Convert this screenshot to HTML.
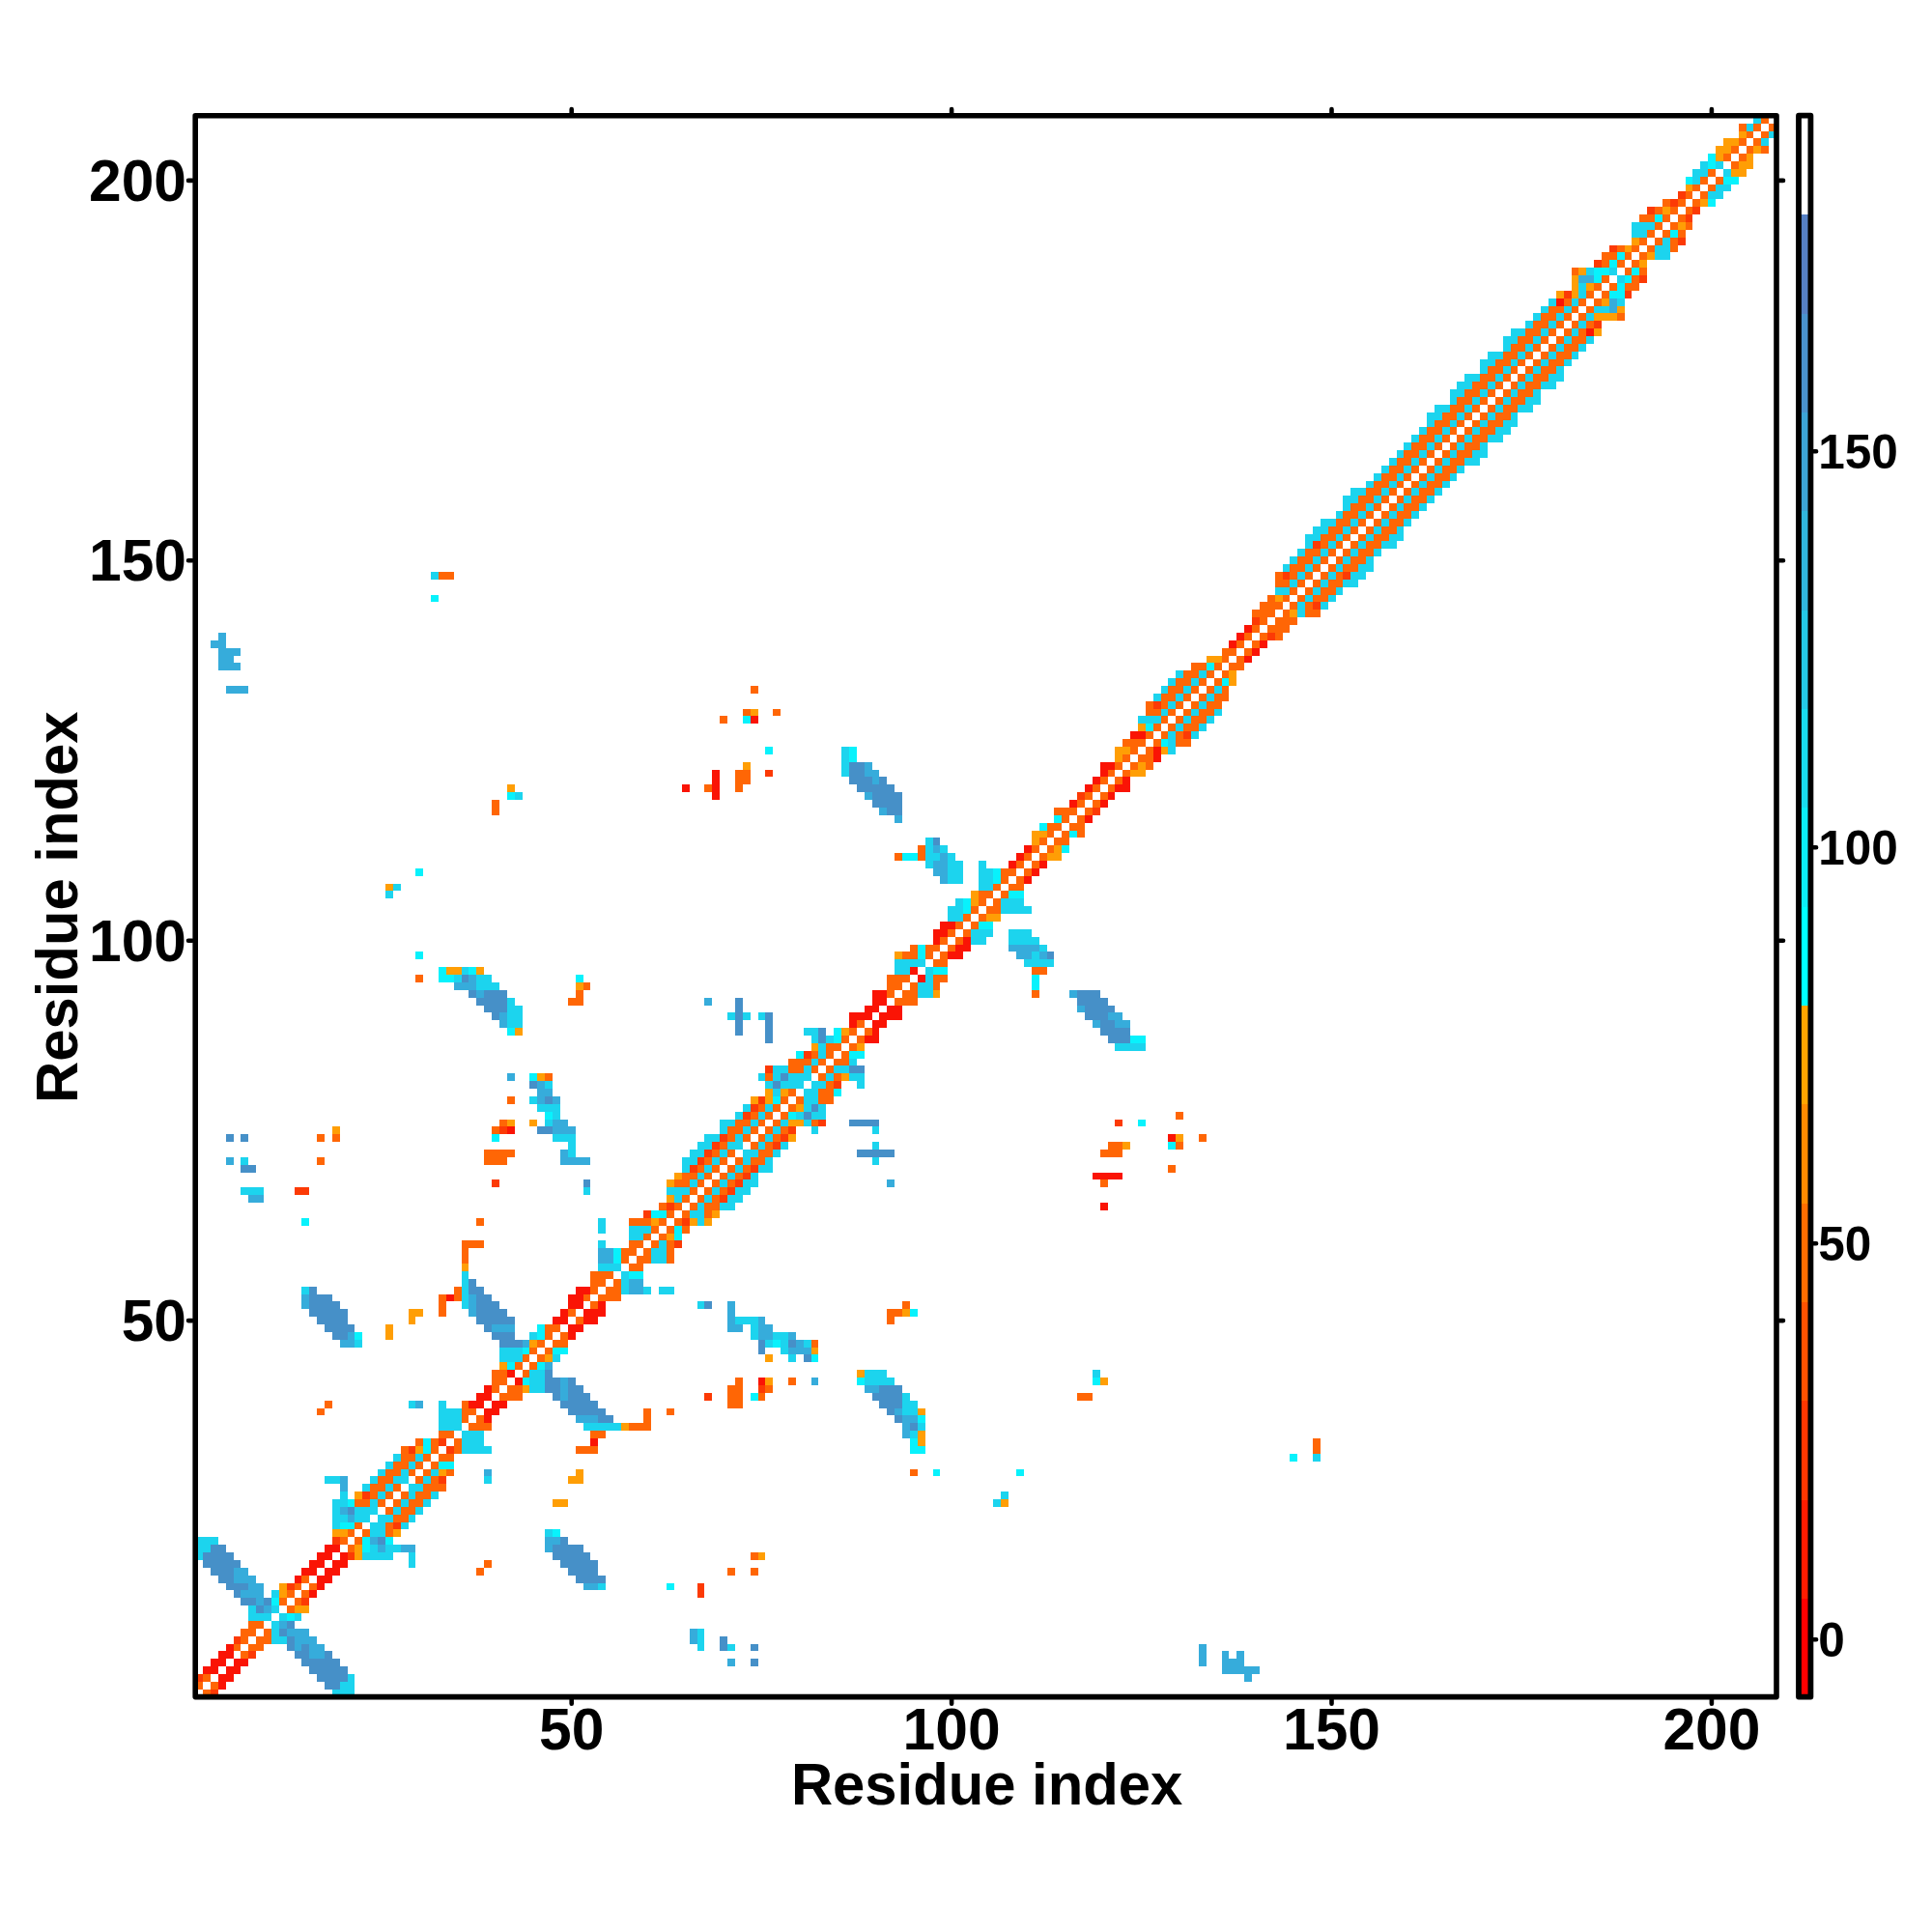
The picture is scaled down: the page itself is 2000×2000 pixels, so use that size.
<!DOCTYPE html>
<html><head><meta charset="utf-8"><title>Contact map</title>
<style>
html,body{margin:0;padding:0;background:#fff;}
body{width:2000px;height:2000px;overflow:hidden;font-family:"Liberation Sans",sans-serif;}
svg{display:block;}
text{font-family:"Liberation Sans",sans-serif;font-weight:bold;fill:#000;}
</style></head><body>
<svg width="2000" height="2000" viewBox="0 0 2000 2000">
<rect width="2000" height="2000" fill="#fff"/>
<g shape-rendering="crispEdges"><path fill="#ff6605" d="M210.07 1748.73h7.87v7.87h-7.87zM202.2 1740.86h7.87v7.87h-7.87zM217.94 1740.86h7.87v7.87h-7.87zM210.07 1732.99h7.87v7.87h-7.87zM249.42 1709.38h7.87v7.87h-7.87zM241.55 1701.52h7.87v7.87h-7.87zM257.28 1701.52h15.74v7.87h-15.74zM249.42 1693.65h7.87v7.87h-7.87zM265.15 1693.65h15.74v7.87h-15.74zM249.42 1685.78h15.74v7.87h-15.74zM273.02 1685.78h7.87v7.87h-7.87zM257.28 1677.91h15.74v7.87h-15.74zM296.63 1662.17h7.87v7.87h-7.87zM288.76 1654.3h7.87v7.87h-7.87zM304.5 1654.3h7.87v7.87h-7.87zM296.63 1646.43h7.87v7.87h-7.87zM312.37 1646.43h7.87v7.87h-7.87zM304.5 1638.56h7.87v7.87h-7.87zM320.24 1638.56h7.87v7.87h-7.87zM312.37 1630.69h7.87v7.87h-7.87zM493.36 1622.82h7.87v7.87h-7.87zM753.05 1622.82h7.87v7.87h-7.87zM776.65 1622.82h7.87v7.87h-7.87zM501.23 1614.95h7.87v7.87h-7.87zM776.65 1607.08h7.87v7.87h-7.87zM359.58 1599.22h7.87v7.87h-7.87zM351.72 1591.35h7.87v7.87h-7.87zM367.45 1591.35h7.87v7.87h-7.87zM359.58 1583.48h7.87v7.87h-7.87zM375.32 1583.48h7.87v7.87h-7.87zM398.93 1583.48h7.87v7.87h-7.87zM367.45 1575.61h7.87v7.87h-7.87zM398.93 1575.61h7.87v7.87h-7.87zM406.8 1567.74h15.74v7.87h-15.74zM398.93 1559.87h7.87v7.87h-7.87zM414.67 1559.87h15.74v7.87h-15.74zM367.45 1552h15.74v7.87h-15.74zM391.06 1552h7.87v7.87h-7.87zM406.8 1552h7.87v7.87h-7.87zM422.54 1552h15.74v7.87h-15.74zM383.19 1544.13h7.87v7.87h-7.87zM398.93 1544.13h7.87v7.87h-7.87zM414.67 1544.13h7.87v7.87h-7.87zM430.41 1544.13h15.74v7.87h-15.74zM383.19 1536.26h15.74v7.87h-15.74zM406.8 1536.26h7.87v7.87h-7.87zM438.28 1536.26h23.61v7.87h-23.61zM391.06 1528.39h15.74v7.87h-15.74zM430.41 1528.39h7.87v7.87h-7.87zM446.15 1528.39h7.87v7.87h-7.87zM398.93 1520.52h15.74v7.87h-15.74zM422.54 1520.52h7.87v7.87h-7.87zM438.28 1520.52h7.87v7.87h-7.87zM461.88 1520.52h7.87v7.87h-7.87zM941.91 1520.52h7.87v7.87h-7.87zM406.8 1512.65h15.74v7.87h-15.74zM430.41 1512.65h7.87v7.87h-7.87zM446.15 1512.65h7.87v7.87h-7.87zM414.67 1504.78h15.74v7.87h-15.74zM438.28 1504.78h7.87v7.87h-7.87zM454.02 1504.78h15.74v7.87h-15.74zM414.67 1496.92h7.87v7.87h-7.87zM446.15 1496.92h7.87v7.87h-7.87zM469.75 1496.92h7.87v7.87h-7.87zM595.66 1496.92h23.61v7.87h-23.61zM1358.98 1496.92h7.87v7.87h-7.87zM430.41 1489.05h7.87v7.87h-7.87zM446.15 1489.05h7.87v7.87h-7.87zM469.75 1489.05h7.87v7.87h-7.87zM1358.98 1489.05h7.87v7.87h-7.87zM454.02 1481.18h15.74v7.87h-15.74zM611.4 1481.18h15.74v7.87h-15.74zM485.49 1473.31h23.61v7.87h-23.61zM650.75 1473.31h23.61v7.87h-23.61zM477.62 1465.44h7.87v7.87h-7.87zM493.36 1465.44h7.87v7.87h-7.87zM666.48 1465.44h7.87v7.87h-7.87zM328.11 1457.57h7.87v7.87h-7.87zM477.62 1457.57h15.74v7.87h-15.74zM666.48 1457.57h7.87v7.87h-7.87zM690.09 1457.57h7.87v7.87h-7.87zM335.98 1449.7h7.87v7.87h-7.87zM477.62 1449.7h7.87v7.87h-7.87zM753.05 1449.7h15.74v7.87h-15.74zM516.97 1441.83h23.61v7.87h-23.61zM753.05 1441.83h15.74v7.87h-15.74zM784.52 1441.83h7.87v7.87h-7.87zM1115.03 1441.83h15.74v7.87h-15.74zM509.1 1433.96h7.87v7.87h-7.87zM524.84 1433.96h15.74v7.87h-15.74zM753.05 1433.96h15.74v7.87h-15.74zM792.39 1433.96h7.87v7.87h-7.87zM509.1 1426.09h15.74v7.87h-15.74zM760.92 1426.09h7.87v7.87h-7.87zM816 1426.09h7.87v7.87h-7.87zM509.1 1418.22h15.74v7.87h-15.74zM540.58 1418.22h7.87v7.87h-7.87zM532.71 1410.35h7.87v7.87h-7.87zM548.45 1410.35h7.87v7.87h-7.87zM540.58 1402.48h7.87v7.87h-7.87zM556.32 1402.48h7.87v7.87h-7.87zM548.45 1394.62h7.87v7.87h-7.87zM564.18 1394.62h7.87v7.87h-7.87zM556.32 1386.75h7.87v7.87h-7.87zM572.05 1386.75h15.74v7.87h-15.74zM839.61 1386.75h7.87v7.87h-7.87zM564.18 1378.88h7.87v7.87h-7.87zM579.92 1378.88h7.87v7.87h-7.87zM564.18 1371.01h15.74v7.87h-15.74zM595.66 1363.14h7.87v7.87h-7.87zM918.3 1363.14h7.87v7.87h-7.87zM454.02 1355.27h7.87v7.87h-7.87zM587.79 1355.27h7.87v7.87h-7.87zM918.3 1355.27h15.74v7.87h-15.74zM454.02 1347.4h7.87v7.87h-7.87zM611.4 1347.4h7.87v7.87h-7.87zM934.04 1347.4h7.87v7.87h-7.87zM454.02 1339.53h7.87v7.87h-7.87zM469.75 1339.53h7.87v7.87h-7.87zM603.53 1339.53h7.87v7.87h-7.87zM619.27 1339.53h23.61v7.87h-23.61zM469.75 1331.66h7.87v7.87h-7.87zM611.4 1331.66h7.87v7.87h-7.87zM627.14 1331.66h15.74v7.87h-15.74zM611.4 1323.79h15.74v7.87h-15.74zM635.01 1323.79h7.87v7.87h-7.87zM611.4 1315.92h23.61v7.87h-23.61zM650.75 1308.05h15.74v7.87h-15.74zM477.62 1300.18h7.87v7.87h-7.87zM642.88 1300.18h7.87v7.87h-7.87zM658.62 1300.18h15.74v7.87h-15.74zM690.09 1300.18h7.87v7.87h-7.87zM477.62 1292.32h7.87v7.87h-7.87zM642.88 1292.32h15.74v7.87h-15.74zM666.48 1292.32h7.87v7.87h-7.87zM690.09 1292.32h7.87v7.87h-7.87zM477.62 1284.45h23.61v7.87h-23.61zM650.75 1284.45h15.74v7.87h-15.74zM674.35 1284.45h7.87v7.87h-7.87zM690.09 1284.45h7.87v7.87h-7.87zM666.48 1276.58h7.87v7.87h-7.87zM682.22 1276.58h7.87v7.87h-7.87zM674.35 1268.71h7.87v7.87h-7.87zM690.09 1268.71h7.87v7.87h-7.87zM705.83 1268.71h7.87v7.87h-7.87zM493.36 1260.84h7.87v7.87h-7.87zM650.75 1260.84h23.61v7.87h-23.61zM682.22 1260.84h7.87v7.87h-7.87zM697.96 1260.84h7.87v7.87h-7.87zM690.09 1252.97h7.87v7.87h-7.87zM705.83 1252.97h7.87v7.87h-7.87zM729.44 1252.97h7.87v7.87h-7.87zM682.22 1245.1h7.87v7.87h-7.87zM697.96 1245.1h7.87v7.87h-7.87zM713.7 1245.1h7.87v7.87h-7.87zM729.44 1245.1h15.74v7.87h-15.74zM705.83 1237.23h7.87v7.87h-7.87zM721.57 1237.23h7.87v7.87h-7.87zM737.31 1237.23h7.87v7.87h-7.87zM713.7 1229.36h7.87v7.87h-7.87zM729.44 1229.36h7.87v7.87h-7.87zM745.18 1229.36h7.87v7.87h-7.87zM697.96 1221.49h15.74v7.87h-15.74zM721.57 1221.49h7.87v7.87h-7.87zM737.31 1221.49h7.87v7.87h-7.87zM753.05 1221.49h7.87v7.87h-7.87zM1138.64 1221.49h7.87v7.87h-7.87zM705.83 1213.62h15.74v7.87h-15.74zM729.44 1213.62h7.87v7.87h-7.87zM745.18 1213.62h7.87v7.87h-7.87zM760.92 1213.62h7.87v7.87h-7.87zM721.57 1205.75h7.87v7.87h-7.87zM737.31 1205.75h7.87v7.87h-7.87zM753.05 1205.75h7.87v7.87h-7.87zM768.78 1205.75h7.87v7.87h-7.87zM1209.46 1205.75h7.87v7.87h-7.87zM328.11 1197.88h7.87v7.87h-7.87zM501.23 1197.88h23.61v7.87h-23.61zM729.44 1197.88h7.87v7.87h-7.87zM745.18 1197.88h7.87v7.87h-7.87zM760.92 1197.88h7.87v7.87h-7.87zM776.65 1197.88h15.74v7.87h-15.74zM501.23 1190.02h31.48v7.87h-31.48zM737.31 1190.02h7.87v7.87h-7.87zM753.05 1190.02h7.87v7.87h-7.87zM784.52 1190.02h15.74v7.87h-15.74zM1138.64 1190.02h23.61v7.87h-23.61zM745.18 1182.15h7.87v7.87h-7.87zM776.65 1182.15h7.87v7.87h-7.87zM792.39 1182.15h7.87v7.87h-7.87zM1146.51 1182.15h15.74v7.87h-15.74zM1217.33 1182.15h7.87v7.87h-7.87zM328.11 1174.28h7.87v7.87h-7.87zM343.85 1174.28h7.87v7.87h-7.87zM753.05 1174.28h7.87v7.87h-7.87zM768.78 1174.28h7.87v7.87h-7.87zM784.52 1174.28h7.87v7.87h-7.87zM800.26 1174.28h7.87v7.87h-7.87zM1240.94 1174.28h7.87v7.87h-7.87zM509.1 1166.41h7.87v7.87h-7.87zM753.05 1166.41h15.74v7.87h-15.74zM776.65 1166.41h7.87v7.87h-7.87zM792.39 1166.41h7.87v7.87h-7.87zM808.13 1166.41h7.87v7.87h-7.87zM516.97 1158.54h7.87v7.87h-7.87zM760.92 1158.54h15.74v7.87h-15.74zM784.52 1158.54h7.87v7.87h-7.87zM800.26 1158.54h7.87v7.87h-7.87zM839.61 1158.54h7.87v7.87h-7.87zM776.65 1150.67h7.87v7.87h-7.87zM792.39 1150.67h7.87v7.87h-7.87zM808.13 1150.67h7.87v7.87h-7.87zM1217.33 1150.67h7.87v7.87h-7.87zM784.52 1142.8h7.87v7.87h-7.87zM800.26 1142.8h7.87v7.87h-7.87zM816 1142.8h7.87v7.87h-7.87zM524.84 1134.93h7.87v7.87h-7.87zM808.13 1134.93h7.87v7.87h-7.87zM823.87 1134.93h7.87v7.87h-7.87zM847.48 1134.93h15.74v7.87h-15.74zM816 1127.06h7.87v7.87h-7.87zM847.48 1127.06h15.74v7.87h-15.74zM855.35 1119.19h7.87v7.87h-7.87zM564.18 1111.32h7.87v7.87h-7.87zM792.39 1111.32h7.87v7.87h-7.87zM847.48 1111.32h7.87v7.87h-7.87zM863.22 1111.32h7.87v7.87h-7.87zM816 1103.45h15.74v7.87h-15.74zM839.61 1103.45h7.87v7.87h-7.87zM855.35 1103.45h7.87v7.87h-7.87zM816 1095.58h23.61v7.87h-23.61zM847.48 1095.58h7.87v7.87h-7.87zM863.22 1095.58h15.74v7.87h-15.74zM839.61 1087.72h7.87v7.87h-7.87zM855.35 1087.72h7.87v7.87h-7.87zM871.08 1087.72h7.87v7.87h-7.87zM855.35 1079.85h15.74v7.87h-15.74zM878.95 1079.85h7.87v7.87h-7.87zM871.08 1071.98h7.87v7.87h-7.87zM886.82 1071.98h7.87v7.87h-7.87zM878.95 1064.11h7.87v7.87h-7.87zM894.69 1064.11h7.87v7.87h-7.87zM886.82 1056.24h7.87v7.87h-7.87zM587.79 1032.63h15.74v7.87h-15.74zM926.17 1032.63h23.61v7.87h-23.61zM595.66 1024.76h7.87v7.87h-7.87zM918.3 1024.76h7.87v7.87h-7.87zM934.04 1024.76h15.74v7.87h-15.74zM1067.82 1024.76h7.87v7.87h-7.87zM603.53 1016.89h7.87v7.87h-7.87zM918.3 1016.89h15.74v7.87h-15.74zM941.91 1016.89h7.87v7.87h-7.87zM965.52 1016.89h7.87v7.87h-7.87zM430.41 1009.02h7.87v7.87h-7.87zM918.3 1009.02h23.61v7.87h-23.61zM965.52 1009.02h15.74v7.87h-15.74zM1067.82 1001.15h15.74v7.87h-15.74zM965.52 993.28h15.74v7.87h-15.74zM934.04 985.42h15.74v7.87h-15.74zM957.65 985.42h7.87v7.87h-7.87zM973.38 985.42h7.87v7.87h-7.87zM941.91 977.55h7.87v7.87h-7.87zM957.65 977.55h15.74v7.87h-15.74zM981.25 977.55h7.87v7.87h-7.87zM973.38 969.68h7.87v7.87h-7.87zM989.12 969.68h7.87v7.87h-7.87zM981.25 961.81h7.87v7.87h-7.87zM996.99 961.81h7.87v7.87h-7.87zM989.12 953.94h7.87v7.87h-7.87zM1004.86 953.94h7.87v7.87h-7.87zM996.99 946.07h7.87v7.87h-7.87zM1012.73 946.07h7.87v7.87h-7.87zM1004.86 938.2h7.87v7.87h-7.87zM1020.6 938.2h15.74v7.87h-15.74zM1012.73 930.33h7.87v7.87h-7.87zM1028.47 930.33h7.87v7.87h-7.87zM1012.73 922.46h15.74v7.87h-15.74zM1036.34 922.46h7.87v7.87h-7.87zM1028.47 914.59h7.87v7.87h-7.87zM1044.21 914.59h15.74v7.87h-15.74zM1036.34 906.72h7.87v7.87h-7.87zM1052.08 906.72h7.87v7.87h-7.87zM1036.34 898.85h15.74v7.87h-15.74zM1059.95 898.85h7.87v7.87h-7.87zM1052.08 890.98h7.87v7.87h-7.87zM1067.82 890.98h7.87v7.87h-7.87zM926.17 883.12h7.87v7.87h-7.87zM949.78 883.12h7.87v7.87h-7.87zM1059.95 883.12h7.87v7.87h-7.87zM1075.68 883.12h7.87v7.87h-7.87zM949.78 875.25h7.87v7.87h-7.87zM1067.82 875.25h7.87v7.87h-7.87zM1083.55 875.25h7.87v7.87h-7.87zM1075.68 867.38h7.87v7.87h-7.87zM1091.42 867.38h15.74v7.87h-15.74zM1083.55 859.51h7.87v7.87h-7.87zM1099.29 859.51h7.87v7.87h-7.87zM1115.03 859.51h7.87v7.87h-7.87zM1083.55 851.64h15.74v7.87h-15.74zM1107.16 851.64h15.74v7.87h-15.74zM1099.29 843.77h7.87v7.87h-7.87zM1115.03 843.77h7.87v7.87h-7.87zM509.1 835.9h7.87v7.87h-7.87zM1091.42 835.9h23.61v7.87h-23.61zM1122.9 835.9h7.87v7.87h-7.87zM509.1 828.03h7.87v7.87h-7.87zM1115.03 828.03h7.87v7.87h-7.87zM1130.77 828.03h7.87v7.87h-7.87zM1122.9 820.16h7.87v7.87h-7.87zM1138.64 820.16h7.87v7.87h-7.87zM729.44 812.29h7.87v7.87h-7.87zM760.92 812.29h7.87v7.87h-7.87zM1130.77 812.29h7.87v7.87h-7.87zM1146.51 812.29h7.87v7.87h-7.87zM760.92 804.42h15.74v7.87h-15.74zM1138.64 804.42h7.87v7.87h-7.87zM1154.38 804.42h7.87v7.87h-7.87zM760.92 796.55h15.74v7.87h-15.74zM1146.51 796.55h7.87v7.87h-7.87zM1162.25 796.55h7.87v7.87h-7.87zM1154.38 788.68h7.87v7.87h-7.87zM1170.12 788.68h7.87v7.87h-7.87zM1185.85 788.68h7.87v7.87h-7.87zM1162.25 780.82h7.87v7.87h-7.87zM1177.98 780.82h15.74v7.87h-15.74zM1170.12 772.95h7.87v7.87h-7.87zM1185.85 772.95h7.87v7.87h-7.87zM1162.25 765.08h23.61v7.87h-23.61zM1193.72 765.08h7.87v7.87h-7.87zM1217.33 765.08h15.74v7.87h-15.74zM1185.85 757.21h7.87v7.87h-7.87zM1201.59 757.21h7.87v7.87h-7.87zM1217.33 757.21h7.87v7.87h-7.87zM1193.72 749.34h7.87v7.87h-7.87zM1209.46 749.34h7.87v7.87h-7.87zM1225.2 749.34h15.74v7.87h-15.74zM745.18 741.47h7.87v7.87h-7.87zM1201.59 741.47h7.87v7.87h-7.87zM1217.33 741.47h7.87v7.87h-7.87zM1233.07 741.47h15.74v7.87h-15.74zM768.78 733.6h7.87v7.87h-7.87zM800.26 733.6h7.87v7.87h-7.87zM1185.85 733.6h15.74v7.87h-15.74zM1209.46 733.6h7.87v7.87h-7.87zM1225.2 733.6h7.87v7.87h-7.87zM1240.94 733.6h15.74v7.87h-15.74zM1185.85 725.73h7.87v7.87h-7.87zM1201.59 725.73h7.87v7.87h-7.87zM1217.33 725.73h7.87v7.87h-7.87zM1233.07 725.73h7.87v7.87h-7.87zM1248.81 725.73h15.74v7.87h-15.74zM1201.59 717.86h15.74v7.87h-15.74zM1225.2 717.86h7.87v7.87h-7.87zM1240.94 717.86h7.87v7.87h-7.87zM1256.68 717.86h15.74v7.87h-15.74zM776.65 709.99h7.87v7.87h-7.87zM1209.46 709.99h15.74v7.87h-15.74zM1233.07 709.99h7.87v7.87h-7.87zM1248.81 709.99h7.87v7.87h-7.87zM1264.55 709.99h7.87v7.87h-7.87zM1217.33 702.12h15.74v7.87h-15.74zM1240.94 702.12h7.87v7.87h-7.87zM1256.68 702.12h7.87v7.87h-7.87zM1225.2 694.25h15.74v7.87h-15.74zM1248.81 694.25h7.87v7.87h-7.87zM1264.55 694.25h7.87v7.87h-7.87zM1233.07 686.38h15.74v7.87h-15.74zM1256.68 686.38h7.87v7.87h-7.87zM1272.42 686.38h15.74v7.87h-15.74zM1264.55 678.52h7.87v7.87h-7.87zM1280.28 678.52h7.87v7.87h-7.87zM1264.55 670.65h15.74v7.87h-15.74zM1288.15 670.65h7.87v7.87h-7.87zM1280.28 662.78h7.87v7.87h-7.87zM1296.02 662.78h7.87v7.87h-7.87zM1288.15 654.91h7.87v7.87h-7.87zM1303.89 654.91h7.87v7.87h-7.87zM1319.63 654.91h7.87v7.87h-7.87zM1296.02 647.04h7.87v7.87h-7.87zM1311.76 647.04h23.61v7.87h-23.61zM1303.89 639.17h7.87v7.87h-7.87zM1319.63 639.17h23.61v7.87h-23.61zM1296.02 631.3h23.61v7.87h-23.61zM1327.5 631.3h7.87v7.87h-7.87zM1351.11 631.3h15.74v7.87h-15.74zM1303.89 623.43h23.61v7.87h-23.61zM1335.37 623.43h7.87v7.87h-7.87zM1351.11 623.43h7.87v7.87h-7.87zM1311.76 615.56h7.87v7.87h-7.87zM1327.5 615.56h7.87v7.87h-7.87zM1343.24 615.56h7.87v7.87h-7.87zM1358.98 615.56h15.74v7.87h-15.74zM1335.37 607.69h7.87v7.87h-7.87zM1351.11 607.69h7.87v7.87h-7.87zM1366.85 607.69h15.74v7.87h-15.74zM1319.63 599.82h15.74v7.87h-15.74zM1343.24 599.82h7.87v7.87h-7.87zM1358.98 599.82h7.87v7.87h-7.87zM1374.72 599.82h15.74v7.87h-15.74zM454.02 591.95h15.74v7.87h-15.74zM1319.63 591.95h7.87v7.87h-7.87zM1335.37 591.95h7.87v7.87h-7.87zM1351.11 591.95h7.87v7.87h-7.87zM1366.85 591.95h7.87v7.87h-7.87zM1382.58 591.95h7.87v7.87h-7.87zM1335.37 584.08h15.74v7.87h-15.74zM1358.98 584.08h7.87v7.87h-7.87zM1374.72 584.08h7.87v7.87h-7.87zM1390.45 584.08h15.74v7.87h-15.74zM1343.24 576.22h15.74v7.87h-15.74zM1366.85 576.22h7.87v7.87h-7.87zM1382.58 576.22h7.87v7.87h-7.87zM1398.32 576.22h15.74v7.87h-15.74zM1351.11 568.35h15.74v7.87h-15.74zM1374.72 568.35h7.87v7.87h-7.87zM1390.45 568.35h7.87v7.87h-7.87zM1406.19 568.35h15.74v7.87h-15.74zM1366.85 560.48h7.87v7.87h-7.87zM1382.58 560.48h7.87v7.87h-7.87zM1398.32 560.48h7.87v7.87h-7.87zM1414.06 560.48h15.74v7.87h-15.74zM1366.85 552.61h15.74v7.87h-15.74zM1390.45 552.61h7.87v7.87h-7.87zM1406.19 552.61h7.87v7.87h-7.87zM1421.93 552.61h15.74v7.87h-15.74zM1374.72 544.74h15.74v7.87h-15.74zM1398.32 544.74h7.87v7.87h-7.87zM1414.06 544.74h7.87v7.87h-7.87zM1429.8 544.74h15.74v7.87h-15.74zM1382.58 536.87h15.74v7.87h-15.74zM1406.19 536.87h7.87v7.87h-7.87zM1421.93 536.87h7.87v7.87h-7.87zM1437.67 536.87h15.74v7.87h-15.74zM1390.45 529h15.74v7.87h-15.74zM1414.06 529h7.87v7.87h-7.87zM1429.8 529h7.87v7.87h-7.87zM1445.54 529h15.74v7.87h-15.74zM1398.32 521.13h15.74v7.87h-15.74zM1421.93 521.13h7.87v7.87h-7.87zM1437.67 521.13h7.87v7.87h-7.87zM1453.41 521.13h15.74v7.87h-15.74zM1406.19 513.26h15.74v7.87h-15.74zM1429.8 513.26h7.87v7.87h-7.87zM1445.54 513.26h7.87v7.87h-7.87zM1461.28 513.26h15.74v7.87h-15.74zM1414.06 505.39h15.74v7.87h-15.74zM1437.67 505.39h7.87v7.87h-7.87zM1453.41 505.39h7.87v7.87h-7.87zM1469.15 505.39h15.74v7.87h-15.74zM1421.93 497.52h15.74v7.87h-15.74zM1445.54 497.52h7.87v7.87h-7.87zM1461.28 497.52h7.87v7.87h-7.87zM1477.02 497.52h15.74v7.87h-15.74zM1429.8 489.65h15.74v7.87h-15.74zM1453.41 489.65h7.87v7.87h-7.87zM1469.15 489.65h7.87v7.87h-7.87zM1484.88 489.65h15.74v7.87h-15.74zM1437.67 481.78h15.74v7.87h-15.74zM1461.28 481.78h7.87v7.87h-7.87zM1477.02 481.78h7.87v7.87h-7.87zM1492.75 481.78h15.74v7.87h-15.74zM1445.54 473.92h15.74v7.87h-15.74zM1469.15 473.92h7.87v7.87h-7.87zM1484.88 473.92h7.87v7.87h-7.87zM1500.62 473.92h15.74v7.87h-15.74zM1453.41 466.05h15.74v7.87h-15.74zM1477.02 466.05h7.87v7.87h-7.87zM1492.75 466.05h7.87v7.87h-7.87zM1508.49 466.05h15.74v7.87h-15.74zM1461.28 458.18h15.74v7.87h-15.74zM1484.88 458.18h7.87v7.87h-7.87zM1500.62 458.18h7.87v7.87h-7.87zM1516.36 458.18h15.74v7.87h-15.74zM1469.15 450.31h15.74v7.87h-15.74zM1492.75 450.31h7.87v7.87h-7.87zM1508.49 450.31h7.87v7.87h-7.87zM1524.23 450.31h15.74v7.87h-15.74zM1477.02 442.44h15.74v7.87h-15.74zM1500.62 442.44h7.87v7.87h-7.87zM1516.36 442.44h7.87v7.87h-7.87zM1532.1 442.44h15.74v7.87h-15.74zM1484.88 434.57h15.74v7.87h-15.74zM1508.49 434.57h7.87v7.87h-7.87zM1524.23 434.57h7.87v7.87h-7.87zM1539.97 434.57h15.74v7.87h-15.74zM1492.75 426.7h15.74v7.87h-15.74zM1516.36 426.7h7.87v7.87h-7.87zM1532.1 426.7h7.87v7.87h-7.87zM1547.84 426.7h15.74v7.87h-15.74zM1500.62 418.83h15.74v7.87h-15.74zM1524.23 418.83h7.87v7.87h-7.87zM1539.97 418.83h7.87v7.87h-7.87zM1555.71 418.83h15.74v7.87h-15.74zM1508.49 410.96h15.74v7.87h-15.74zM1532.1 410.96h7.87v7.87h-7.87zM1547.84 410.96h7.87v7.87h-7.87zM1563.58 410.96h15.74v7.87h-15.74zM1516.36 403.09h15.74v7.87h-15.74zM1539.97 403.09h7.87v7.87h-7.87zM1555.71 403.09h7.87v7.87h-7.87zM1571.45 403.09h15.74v7.87h-15.74zM1524.23 395.22h15.74v7.87h-15.74zM1547.84 395.22h7.87v7.87h-7.87zM1563.58 395.22h7.87v7.87h-7.87zM1579.32 395.22h15.74v7.87h-15.74zM1532.1 387.35h15.74v7.87h-15.74zM1555.71 387.35h7.87v7.87h-7.87zM1571.45 387.35h7.87v7.87h-7.87zM1587.18 387.35h15.74v7.87h-15.74zM1539.97 379.48h15.74v7.87h-15.74zM1563.58 379.48h7.87v7.87h-7.87zM1579.32 379.48h7.87v7.87h-7.87zM1595.05 379.48h15.74v7.87h-15.74zM1547.84 371.62h15.74v7.87h-15.74zM1571.45 371.62h7.87v7.87h-7.87zM1587.18 371.62h7.87v7.87h-7.87zM1602.92 371.62h15.74v7.87h-15.74zM1555.71 363.75h15.74v7.87h-15.74zM1579.32 363.75h7.87v7.87h-7.87zM1595.05 363.75h7.87v7.87h-7.87zM1610.79 363.75h15.74v7.87h-15.74zM1563.58 355.88h15.74v7.87h-15.74zM1587.18 355.88h7.87v7.87h-7.87zM1602.92 355.88h7.87v7.87h-7.87zM1618.66 355.88h15.74v7.87h-15.74zM1571.45 348.01h15.74v7.87h-15.74zM1595.05 348.01h7.87v7.87h-7.87zM1610.79 348.01h7.87v7.87h-7.87zM1626.53 348.01h15.74v7.87h-15.74zM1579.32 340.14h15.74v7.87h-15.74zM1602.92 340.14h7.87v7.87h-7.87zM1618.66 340.14h7.87v7.87h-7.87zM1634.4 340.14h7.87v7.87h-7.87zM1587.18 332.27h15.74v7.87h-15.74zM1610.79 332.27h7.87v7.87h-7.87zM1626.53 332.27h7.87v7.87h-7.87zM1642.27 332.27h7.87v7.87h-7.87zM1595.05 324.4h15.74v7.87h-15.74zM1618.66 324.4h7.87v7.87h-7.87zM1634.4 324.4h7.87v7.87h-7.87zM1673.75 324.4h7.87v7.87h-7.87zM1602.92 316.53h15.74v7.87h-15.74zM1626.53 316.53h7.87v7.87h-7.87zM1642.27 316.53h7.87v7.87h-7.87zM1618.66 308.66h7.87v7.87h-7.87zM1634.4 308.66h7.87v7.87h-7.87zM1650.14 308.66h7.87v7.87h-7.87zM1642.27 300.79h7.87v7.87h-7.87zM1658.01 300.79h7.87v7.87h-7.87zM1650.14 292.92h7.87v7.87h-7.87zM1665.88 292.92h7.87v7.87h-7.87zM1681.62 292.92h15.74v7.87h-15.74zM1658.01 285.05h7.87v7.87h-7.87zM1689.48 285.05h7.87v7.87h-7.87zM1626.53 277.18h7.87v7.87h-7.87zM1681.62 277.18h7.87v7.87h-7.87zM1697.35 277.18h7.87v7.87h-7.87zM1658.01 269.32h7.87v7.87h-7.87zM1673.75 269.32h7.87v7.87h-7.87zM1689.48 269.32h7.87v7.87h-7.87zM1658.01 261.45h15.74v7.87h-15.74zM1681.62 261.45h7.87v7.87h-7.87zM1697.35 261.45h7.87v7.87h-7.87zM1673.75 253.58h7.87v7.87h-7.87zM1689.48 253.58h7.87v7.87h-7.87zM1705.22 253.58h7.87v7.87h-7.87zM1728.83 253.58h7.87v7.87h-7.87zM1697.35 245.71h7.87v7.87h-7.87zM1713.09 245.71h7.87v7.87h-7.87zM1728.83 245.71h7.87v7.87h-7.87zM1705.22 237.84h7.87v7.87h-7.87zM1720.96 237.84h7.87v7.87h-7.87zM1736.7 237.84h7.87v7.87h-7.87zM1713.09 229.97h7.87v7.87h-7.87zM1728.83 229.97h7.87v7.87h-7.87zM1744.57 229.97h7.87v7.87h-7.87zM1697.35 222.1h15.74v7.87h-15.74zM1720.96 222.1h7.87v7.87h-7.87zM1736.7 222.1h7.87v7.87h-7.87zM1713.09 214.23h7.87v7.87h-7.87zM1728.83 214.23h7.87v7.87h-7.87zM1744.57 214.23h7.87v7.87h-7.87zM1720.96 206.36h7.87v7.87h-7.87zM1736.7 206.36h7.87v7.87h-7.87zM1752.44 206.36h7.87v7.87h-7.87zM1744.57 198.49h7.87v7.87h-7.87zM1760.31 198.49h7.87v7.87h-7.87zM1752.44 190.62h7.87v7.87h-7.87zM1768.18 190.62h7.87v7.87h-7.87zM1760.31 182.75h7.87v7.87h-7.87zM1776.05 182.75h7.87v7.87h-7.87zM1768.18 174.88h7.87v7.87h-7.87zM1791.78 167.02h7.87v7.87h-7.87zM1783.92 159.15h7.87v7.87h-7.87zM1799.65 159.15h7.87v7.87h-7.87zM1791.78 151.28h7.87v7.87h-7.87zM1807.52 151.28h7.87v7.87h-7.87zM1823.26 151.28h7.87v7.87h-7.87zM1799.65 143.41h7.87v7.87h-7.87zM1815.39 143.41h7.87v7.87h-7.87zM1807.52 135.54h7.87v7.87h-7.87zM1823.26 135.54h7.87v7.87h-7.87zM1799.65 127.67h7.87v7.87h-7.87zM1815.39 127.67h7.87v7.87h-7.87zM1831.13 127.67h7.87v7.87h-7.87zM1823.26 119.8h7.87v7.87h-7.87z"/><path fill="#fc3a05" d="M217.94 1748.73h7.87v7.87h-7.87zM202.2 1732.99h7.87v7.87h-7.87zM257.28 1709.38h7.87v7.87h-7.87zM241.55 1693.65h7.87v7.87h-7.87zM312.37 1654.3h7.87v7.87h-7.87zM721.57 1646.43h7.87v7.87h-7.87zM296.63 1638.56h7.87v7.87h-7.87zM721.57 1638.56h7.87v7.87h-7.87zM359.58 1607.08h7.87v7.87h-7.87zM343.85 1591.35h7.87v7.87h-7.87zM406.8 1575.61h7.87v7.87h-7.87zM375.32 1544.13h7.87v7.87h-7.87zM454.02 1528.39h7.87v7.87h-7.87zM422.54 1496.92h7.87v7.87h-7.87zM461.88 1496.92h7.87v7.87h-7.87zM454.02 1489.05h7.87v7.87h-7.87zM729.44 1441.83h7.87v7.87h-7.87zM784.52 1433.96h7.87v7.87h-7.87zM697.96 1284.45h7.87v7.87h-7.87zM705.83 1260.84h7.87v7.87h-7.87zM666.48 1252.97h7.87v7.87h-7.87zM690.09 1245.1h7.87v7.87h-7.87zM745.18 1237.23h7.87v7.87h-7.87zM304.5 1229.36h15.74v7.87h-15.74zM753.05 1229.36h7.87v7.87h-7.87zM509.1 1221.49h7.87v7.87h-7.87zM760.92 1221.49h7.87v7.87h-7.87zM768.78 1213.62h7.87v7.87h-7.87zM713.7 1205.75h7.87v7.87h-7.87zM776.65 1205.75h7.87v7.87h-7.87zM721.57 1197.88h7.87v7.87h-7.87zM729.44 1190.02h7.87v7.87h-7.87zM737.31 1182.15h7.87v7.87h-7.87zM800.26 1182.15h7.87v7.87h-7.87zM745.18 1174.28h7.87v7.87h-7.87zM808.13 1174.28h7.87v7.87h-7.87zM516.97 1166.41h7.87v7.87h-7.87zM816 1166.41h7.87v7.87h-7.87zM847.48 1158.54h7.87v7.87h-7.87zM1154.38 1158.54h7.87v7.87h-7.87zM768.78 1150.67h7.87v7.87h-7.87zM776.65 1142.8h7.87v7.87h-7.87zM784.52 1134.93h7.87v7.87h-7.87zM863.22 1119.19h7.87v7.87h-7.87zM792.39 1103.45h7.87v7.87h-7.87zM831.74 1087.72h7.87v7.87h-7.87zM1130.77 835.9h7.87v7.87h-7.87zM1115.03 820.16h7.87v7.87h-7.87zM792.39 796.55h7.87v7.87h-7.87zM1225.2 757.21h7.87v7.87h-7.87zM1193.72 725.73h7.87v7.87h-7.87zM1311.76 654.91h7.87v7.87h-7.87zM1296.02 639.17h7.87v7.87h-7.87zM1358.98 623.43h7.87v7.87h-7.87zM1327.5 591.95h7.87v7.87h-7.87zM1390.45 591.95h7.87v7.87h-7.87zM1358.98 560.48h7.87v7.87h-7.87zM1650.14 332.27h7.87v7.87h-7.87zM1618.66 300.79h7.87v7.87h-7.87zM1681.62 300.79h7.87v7.87h-7.87zM1697.35 285.05h7.87v7.87h-7.87zM1650.14 269.32h7.87v7.87h-7.87zM1665.88 253.58h7.87v7.87h-7.87zM1736.7 245.71h7.87v7.87h-7.87zM1744.57 222.1h7.87v7.87h-7.87zM1705.22 214.23h7.87v7.87h-7.87zM1752.44 214.23h7.87v7.87h-7.87zM1728.83 206.36h7.87v7.87h-7.87zM1736.7 198.49h7.87v7.87h-7.87z"/><path fill="#1cd4ee" d="M343.85 1748.73h23.61v7.87h-23.61zM351.72 1740.86h15.74v7.87h-15.74zM359.58 1732.99h7.87v7.87h-7.87zM721.57 1701.52h7.87v7.87h-7.87zM753.05 1701.52h7.87v7.87h-7.87zM280.89 1693.65h15.74v7.87h-15.74zM721.57 1693.65h7.87v7.87h-7.87zM280.89 1685.78h7.87v7.87h-7.87zM721.57 1685.78h7.87v7.87h-7.87zM280.89 1677.91h7.87v7.87h-7.87zM257.28 1670.04h23.61v7.87h-23.61zM288.76 1670.04h7.87v7.87h-7.87zM304.5 1670.04h7.87v7.87h-7.87zM257.28 1662.17h7.87v7.87h-7.87zM280.89 1662.17h7.87v7.87h-7.87zM280.89 1646.43h7.87v7.87h-7.87zM619.27 1638.56h7.87v7.87h-7.87zM422.54 1614.95h7.87v7.87h-7.87zM202.2 1607.08h7.87v7.87h-7.87zM375.32 1607.08h31.48v7.87h-31.48zM422.54 1607.08h7.87v7.87h-7.87zM202.2 1599.22h15.74v7.87h-15.74zM383.19 1599.22h7.87v7.87h-7.87zM398.93 1599.22h15.74v7.87h-15.74zM202.2 1591.35h23.61v7.87h-23.61zM383.19 1583.48h15.74v7.87h-15.74zM564.18 1583.48h7.87v7.87h-7.87zM343.85 1575.61h7.87v7.87h-7.87zM383.19 1575.61h15.74v7.87h-15.74zM414.67 1575.61h7.87v7.87h-7.87zM343.85 1567.74h15.74v7.87h-15.74zM367.45 1567.74h15.74v7.87h-15.74zM391.06 1567.74h15.74v7.87h-15.74zM422.54 1567.74h7.87v7.87h-7.87zM343.85 1559.87h7.87v7.87h-7.87zM367.45 1559.87h23.61v7.87h-23.61zM406.8 1559.87h7.87v7.87h-7.87zM430.41 1559.87h7.87v7.87h-7.87zM343.85 1552h15.74v7.87h-15.74zM383.19 1552h7.87v7.87h-7.87zM414.67 1552h7.87v7.87h-7.87zM438.28 1552h7.87v7.87h-7.87zM1028.47 1552h7.87v7.87h-7.87zM351.72 1544.13h7.87v7.87h-7.87zM391.06 1544.13h7.87v7.87h-7.87zM422.54 1544.13h7.87v7.87h-7.87zM446.15 1544.13h7.87v7.87h-7.87zM1036.34 1544.13h7.87v7.87h-7.87zM375.32 1536.26h7.87v7.87h-7.87zM398.93 1536.26h7.87v7.87h-7.87zM422.54 1536.26h15.74v7.87h-15.74zM335.98 1528.39h15.74v7.87h-15.74zM383.19 1528.39h7.87v7.87h-7.87zM406.8 1528.39h15.74v7.87h-15.74zM438.28 1528.39h7.87v7.87h-7.87zM501.23 1528.39h7.87v7.87h-7.87zM391.06 1520.52h7.87v7.87h-7.87zM414.67 1520.52h7.87v7.87h-7.87zM446.15 1520.52h7.87v7.87h-7.87zM398.93 1512.65h7.87v7.87h-7.87zM422.54 1512.65h7.87v7.87h-7.87zM406.8 1504.78h7.87v7.87h-7.87zM430.41 1504.78h7.87v7.87h-7.87zM1358.98 1504.78h7.87v7.87h-7.87zM477.62 1496.92h31.48v7.87h-31.48zM477.62 1489.05h23.61v7.87h-23.61zM477.62 1481.18h23.61v7.87h-23.61zM941.91 1481.18h7.87v7.87h-7.87zM454.02 1473.31h23.61v7.87h-23.61zM603.53 1473.31h39.35v7.87h-39.35zM949.78 1473.31h7.87v7.87h-7.87zM454.02 1465.44h23.61v7.87h-23.61zM454.02 1457.57h23.61v7.87h-23.61zM934.04 1457.57h15.74v7.87h-15.74zM422.54 1449.7h7.87v7.87h-7.87zM454.02 1449.7h7.87v7.87h-7.87zM934.04 1449.7h15.74v7.87h-15.74zM934.04 1441.83h7.87v7.87h-7.87zM548.45 1433.96h15.74v7.87h-15.74zM548.45 1426.09h15.74v7.87h-15.74zM894.69 1426.09h31.48v7.87h-31.48zM548.45 1418.22h15.74v7.87h-15.74zM894.69 1418.22h23.61v7.87h-23.61zM1130.77 1418.22h7.87v7.87h-7.87zM516.97 1402.48h23.61v7.87h-23.61zM572.05 1402.48h7.87v7.87h-7.87zM816 1402.48h7.87v7.87h-7.87zM516.97 1394.62h23.61v7.87h-23.61zM808.13 1394.62h7.87v7.87h-7.87zM367.45 1386.75h7.87v7.87h-7.87zM792.39 1386.75h7.87v7.87h-7.87zM808.13 1386.75h7.87v7.87h-7.87zM831.74 1386.75h7.87v7.87h-7.87zM548.45 1378.88h7.87v7.87h-7.87zM776.65 1378.88h7.87v7.87h-7.87zM800.26 1378.88h15.74v7.87h-15.74zM776.65 1371.01h7.87v7.87h-7.87zM760.92 1363.14h23.61v7.87h-23.61zM477.62 1347.4h7.87v7.87h-7.87zM721.57 1347.4h7.87v7.87h-7.87zM477.62 1339.53h7.87v7.87h-7.87zM312.37 1331.66h7.87v7.87h-7.87zM477.62 1331.66h7.87v7.87h-7.87zM642.88 1331.66h7.87v7.87h-7.87zM666.48 1331.66h7.87v7.87h-7.87zM682.22 1331.66h15.74v7.87h-15.74zM477.62 1323.79h7.87v7.87h-7.87zM642.88 1323.79h7.87v7.87h-7.87zM477.62 1315.92h7.87v7.87h-7.87zM642.88 1315.92h7.87v7.87h-7.87zM619.27 1308.05h23.61v7.87h-23.61zM674.35 1300.18h15.74v7.87h-15.74zM674.35 1292.32h15.74v7.87h-15.74zM619.27 1284.45h7.87v7.87h-7.87zM682.22 1284.45h7.87v7.87h-7.87zM650.75 1276.58h15.74v7.87h-15.74zM619.27 1268.71h7.87v7.87h-7.87zM650.75 1268.71h23.61v7.87h-23.61zM619.27 1260.84h7.87v7.87h-7.87zM721.57 1260.84h7.87v7.87h-7.87zM713.7 1252.97h15.74v7.87h-15.74zM721.57 1245.1h7.87v7.87h-7.87zM745.18 1245.1h15.74v7.87h-15.74zM697.96 1237.23h7.87v7.87h-7.87zM729.44 1237.23h7.87v7.87h-7.87zM753.05 1237.23h15.74v7.87h-15.74zM249.42 1229.36h23.61v7.87h-23.61zM603.53 1229.36h7.87v7.87h-7.87zM690.09 1229.36h23.61v7.87h-23.61zM737.31 1229.36h7.87v7.87h-7.87zM760.92 1229.36h15.74v7.87h-15.74zM713.7 1221.49h7.87v7.87h-7.87zM745.18 1221.49h7.87v7.87h-7.87zM768.78 1221.49h15.74v7.87h-15.74zM721.57 1213.62h7.87v7.87h-7.87zM753.05 1213.62h7.87v7.87h-7.87zM776.65 1213.62h7.87v7.87h-7.87zM705.83 1205.75h7.87v7.87h-7.87zM729.44 1205.75h7.87v7.87h-7.87zM760.92 1205.75h7.87v7.87h-7.87zM784.52 1205.75h15.74v7.87h-15.74zM249.42 1197.88h7.87v7.87h-7.87zM705.83 1197.88h15.74v7.87h-15.74zM737.31 1197.88h7.87v7.87h-7.87zM768.78 1197.88h7.87v7.87h-7.87zM792.39 1197.88h7.87v7.87h-7.87zM902.56 1197.88h7.87v7.87h-7.87zM587.79 1190.02h7.87v7.87h-7.87zM713.7 1190.02h15.74v7.87h-15.74zM745.18 1190.02h7.87v7.87h-7.87zM768.78 1190.02h15.74v7.87h-15.74zM800.26 1190.02h7.87v7.87h-7.87zM587.79 1182.15h7.87v7.87h-7.87zM721.57 1182.15h15.74v7.87h-15.74zM753.05 1182.15h15.74v7.87h-15.74zM784.52 1182.15h7.87v7.87h-7.87zM808.13 1182.15h7.87v7.87h-7.87zM902.56 1182.15h7.87v7.87h-7.87zM572.05 1174.28h23.61v7.87h-23.61zM729.44 1174.28h15.74v7.87h-15.74zM760.92 1174.28h7.87v7.87h-7.87zM792.39 1174.28h7.87v7.87h-7.87zM745.18 1166.41h7.87v7.87h-7.87zM768.78 1166.41h7.87v7.87h-7.87zM800.26 1166.41h7.87v7.87h-7.87zM839.61 1166.41h7.87v7.87h-7.87zM902.56 1166.41h7.87v7.87h-7.87zM564.18 1158.54h7.87v7.87h-7.87zM745.18 1158.54h15.74v7.87h-15.74zM776.65 1158.54h7.87v7.87h-7.87zM808.13 1158.54h7.87v7.87h-7.87zM831.74 1158.54h7.87v7.87h-7.87zM572.05 1150.67h7.87v7.87h-7.87zM760.92 1150.67h7.87v7.87h-7.87zM784.52 1150.67h7.87v7.87h-7.87zM823.87 1150.67h7.87v7.87h-7.87zM839.61 1150.67h15.74v7.87h-15.74zM556.32 1142.8h23.61v7.87h-23.61zM768.78 1142.8h7.87v7.87h-7.87zM792.39 1142.8h7.87v7.87h-7.87zM831.74 1142.8h7.87v7.87h-7.87zM847.48 1142.8h7.87v7.87h-7.87zM548.45 1134.93h7.87v7.87h-7.87zM831.74 1134.93h15.74v7.87h-15.74zM800.26 1127.06h7.87v7.87h-7.87zM831.74 1127.06h15.74v7.87h-15.74zM564.18 1119.19h7.87v7.87h-7.87zM792.39 1119.19h7.87v7.87h-7.87zM808.13 1119.19h23.61v7.87h-23.61zM839.61 1119.19h15.74v7.87h-15.74zM886.82 1119.19h7.87v7.87h-7.87zM784.52 1111.32h7.87v7.87h-7.87zM800.26 1111.32h7.87v7.87h-7.87zM816 1111.32h23.61v7.87h-23.61zM855.35 1111.32h7.87v7.87h-7.87zM878.95 1111.32h15.74v7.87h-15.74zM800.26 1103.45h15.74v7.87h-15.74zM831.74 1103.45h7.87v7.87h-7.87zM863.22 1103.45h15.74v7.87h-15.74zM839.61 1095.58h7.87v7.87h-7.87zM878.95 1095.58h7.87v7.87h-7.87zM847.48 1087.72h7.87v7.87h-7.87zM847.48 1079.85h7.87v7.87h-7.87zM1154.38 1079.85h31.48v7.87h-31.48zM839.61 1071.98h7.87v7.87h-7.87zM855.35 1071.98h7.87v7.87h-7.87zM831.74 1064.11h15.74v7.87h-15.74zM524.84 1056.24h15.74v7.87h-15.74zM524.84 1048.37h15.74v7.87h-15.74zM753.05 1048.37h7.87v7.87h-7.87zM768.78 1048.37h7.87v7.87h-7.87zM784.52 1048.37h7.87v7.87h-7.87zM524.84 1040.5h15.74v7.87h-15.74zM524.84 1032.63h7.87v7.87h-7.87zM949.78 1024.76h15.74v7.87h-15.74zM493.36 1016.89h23.61v7.87h-23.61zM949.78 1016.89h15.74v7.87h-15.74zM469.75 1009.02h7.87v7.87h-7.87zM493.36 1009.02h15.74v7.87h-15.74zM957.65 1009.02h7.87v7.87h-7.87zM477.62 1001.15h7.87v7.87h-7.87zM926.17 1001.15h15.74v7.87h-15.74zM957.65 1001.15h7.87v7.87h-7.87zM926.17 993.28h31.48v7.87h-31.48zM1059.95 993.28h31.48v7.87h-31.48zM1067.82 985.42h7.87v7.87h-7.87zM1075.68 977.55h7.87v7.87h-7.87zM1004.86 969.68h15.74v7.87h-15.74zM1044.21 969.68h31.48v7.87h-31.48zM1004.86 961.81h23.61v7.87h-23.61zM1044.21 961.81h23.61v7.87h-23.61zM981.25 946.07h15.74v7.87h-15.74zM981.25 938.2h15.74v7.87h-15.74zM1036.34 938.2h31.48v7.87h-31.48zM989.12 930.33h7.87v7.87h-7.87zM1036.34 930.33h23.61v7.87h-23.61zM398.93 922.46h7.87v7.87h-7.87zM406.8 914.59h7.87v7.87h-7.87zM1012.73 914.59h15.74v7.87h-15.74zM981.25 906.72h15.74v7.87h-15.74zM1012.73 906.72h15.74v7.87h-15.74zM981.25 898.85h15.74v7.87h-15.74zM1012.73 898.85h15.74v7.87h-15.74zM957.65 890.98h7.87v7.87h-7.87zM981.25 890.98h15.74v7.87h-15.74zM1012.73 890.98h7.87v7.87h-7.87zM957.65 883.12h15.74v7.87h-15.74zM981.25 883.12h7.87v7.87h-7.87zM957.65 875.25h7.87v7.87h-7.87zM973.38 875.25h7.87v7.87h-7.87zM957.65 867.38h7.87v7.87h-7.87zM532.71 820.16h7.87v7.87h-7.87zM871.08 796.55h7.87v7.87h-7.87zM871.08 788.68h7.87v7.87h-7.87zM871.08 780.82h7.87v7.87h-7.87zM871.08 772.95h7.87v7.87h-7.87zM1209.46 772.95h7.87v7.87h-7.87zM1209.46 765.08h7.87v7.87h-7.87zM1209.46 757.21h7.87v7.87h-7.87zM1233.07 757.21h7.87v7.87h-7.87zM1217.33 749.34h7.87v7.87h-7.87zM1240.94 749.34h7.87v7.87h-7.87zM1177.98 741.47h23.61v7.87h-23.61zM1225.2 741.47h7.87v7.87h-7.87zM1248.81 741.47h7.87v7.87h-7.87zM1201.59 733.6h7.87v7.87h-7.87zM1233.07 733.6h7.87v7.87h-7.87zM1256.68 733.6h7.87v7.87h-7.87zM1209.46 725.73h7.87v7.87h-7.87zM1240.94 725.73h7.87v7.87h-7.87zM1193.72 717.86h7.87v7.87h-7.87zM1217.33 717.86h7.87v7.87h-7.87zM1248.81 717.86h7.87v7.87h-7.87zM1201.59 709.99h7.87v7.87h-7.87zM1225.2 709.99h7.87v7.87h-7.87zM1256.68 709.99h7.87v7.87h-7.87zM1209.46 702.12h7.87v7.87h-7.87zM1233.07 702.12h7.87v7.87h-7.87zM1217.33 694.25h7.87v7.87h-7.87zM1240.94 694.25h7.87v7.87h-7.87zM1343.24 631.3h7.87v7.87h-7.87zM1343.24 623.43h7.87v7.87h-7.87zM1366.85 623.43h7.87v7.87h-7.87zM1351.11 615.56h7.87v7.87h-7.87zM1374.72 615.56h7.87v7.87h-7.87zM1319.63 607.69h15.74v7.87h-15.74zM1358.98 607.69h7.87v7.87h-7.87zM1382.58 607.69h7.87v7.87h-7.87zM1335.37 599.82h7.87v7.87h-7.87zM1366.85 599.82h7.87v7.87h-7.87zM1390.45 599.82h15.74v7.87h-15.74zM446.15 591.95h7.87v7.87h-7.87zM1343.24 591.95h7.87v7.87h-7.87zM1374.72 591.95h7.87v7.87h-7.87zM1398.32 591.95h15.74v7.87h-15.74zM1327.5 584.08h7.87v7.87h-7.87zM1351.11 584.08h7.87v7.87h-7.87zM1382.58 584.08h7.87v7.87h-7.87zM1406.19 584.08h15.74v7.87h-15.74zM1335.37 576.22h7.87v7.87h-7.87zM1358.98 576.22h7.87v7.87h-7.87zM1390.45 576.22h7.87v7.87h-7.87zM1414.06 576.22h7.87v7.87h-7.87zM1343.24 568.35h7.87v7.87h-7.87zM1366.85 568.35h7.87v7.87h-7.87zM1398.32 568.35h7.87v7.87h-7.87zM1421.93 568.35h7.87v7.87h-7.87zM1351.11 560.48h7.87v7.87h-7.87zM1374.72 560.48h7.87v7.87h-7.87zM1406.19 560.48h7.87v7.87h-7.87zM1429.8 560.48h15.74v7.87h-15.74zM1351.11 552.61h15.74v7.87h-15.74zM1382.58 552.61h7.87v7.87h-7.87zM1414.06 552.61h7.87v7.87h-7.87zM1437.67 552.61h15.74v7.87h-15.74zM1358.98 544.74h15.74v7.87h-15.74zM1390.45 544.74h7.87v7.87h-7.87zM1421.93 544.74h7.87v7.87h-7.87zM1445.54 544.74h7.87v7.87h-7.87zM1366.85 536.87h15.74v7.87h-15.74zM1398.32 536.87h7.87v7.87h-7.87zM1429.8 536.87h7.87v7.87h-7.87zM1453.41 536.87h7.87v7.87h-7.87zM1382.58 529h7.87v7.87h-7.87zM1406.19 529h7.87v7.87h-7.87zM1437.67 529h7.87v7.87h-7.87zM1461.28 529h7.87v7.87h-7.87zM1390.45 521.13h7.87v7.87h-7.87zM1414.06 521.13h7.87v7.87h-7.87zM1445.54 521.13h7.87v7.87h-7.87zM1469.15 521.13h7.87v7.87h-7.87zM1390.45 513.26h15.74v7.87h-15.74zM1421.93 513.26h7.87v7.87h-7.87zM1453.41 513.26h7.87v7.87h-7.87zM1477.02 513.26h7.87v7.87h-7.87zM1398.32 505.39h15.74v7.87h-15.74zM1429.8 505.39h7.87v7.87h-7.87zM1461.28 505.39h7.87v7.87h-7.87zM1484.88 505.39h7.87v7.87h-7.87zM1414.06 497.52h7.87v7.87h-7.87zM1437.67 497.52h7.87v7.87h-7.87zM1469.15 497.52h7.87v7.87h-7.87zM1492.75 497.52h7.87v7.87h-7.87zM1421.93 489.65h7.87v7.87h-7.87zM1445.54 489.65h7.87v7.87h-7.87zM1477.02 489.65h7.87v7.87h-7.87zM1500.62 489.65h7.87v7.87h-7.87zM1429.8 481.78h7.87v7.87h-7.87zM1453.41 481.78h7.87v7.87h-7.87zM1484.88 481.78h7.87v7.87h-7.87zM1508.49 481.78h7.87v7.87h-7.87zM1437.67 473.92h7.87v7.87h-7.87zM1461.28 473.92h7.87v7.87h-7.87zM1492.75 473.92h7.87v7.87h-7.87zM1516.36 473.92h15.74v7.87h-15.74zM1445.54 466.05h7.87v7.87h-7.87zM1469.15 466.05h7.87v7.87h-7.87zM1500.62 466.05h7.87v7.87h-7.87zM1524.23 466.05h15.74v7.87h-15.74zM1453.41 458.18h7.87v7.87h-7.87zM1477.02 458.18h7.87v7.87h-7.87zM1508.49 458.18h7.87v7.87h-7.87zM1532.1 458.18h7.87v7.87h-7.87zM1461.28 450.31h7.87v7.87h-7.87zM1484.88 450.31h7.87v7.87h-7.87zM1516.36 450.31h7.87v7.87h-7.87zM1539.97 450.31h15.74v7.87h-15.74zM1469.15 442.44h7.87v7.87h-7.87zM1492.75 442.44h7.87v7.87h-7.87zM1524.23 442.44h7.87v7.87h-7.87zM1547.84 442.44h15.74v7.87h-15.74zM1477.02 434.57h7.87v7.87h-7.87zM1500.62 434.57h7.87v7.87h-7.87zM1532.1 434.57h7.87v7.87h-7.87zM1555.71 434.57h15.74v7.87h-15.74zM1477.02 426.7h15.74v7.87h-15.74zM1508.49 426.7h7.87v7.87h-7.87zM1539.97 426.7h7.87v7.87h-7.87zM1563.58 426.7h7.87v7.87h-7.87zM1484.88 418.83h15.74v7.87h-15.74zM1516.36 418.83h7.87v7.87h-7.87zM1547.84 418.83h7.87v7.87h-7.87zM1571.45 418.83h15.74v7.87h-15.74zM1500.62 410.96h7.87v7.87h-7.87zM1524.23 410.96h7.87v7.87h-7.87zM1555.71 410.96h7.87v7.87h-7.87zM1579.32 410.96h15.74v7.87h-15.74zM1500.62 403.09h15.74v7.87h-15.74zM1532.1 403.09h7.87v7.87h-7.87zM1563.58 403.09h7.87v7.87h-7.87zM1587.18 403.09h7.87v7.87h-7.87zM1508.49 395.22h15.74v7.87h-15.74zM1539.97 395.22h7.87v7.87h-7.87zM1571.45 395.22h7.87v7.87h-7.87zM1595.05 395.22h15.74v7.87h-15.74zM1516.36 387.35h15.74v7.87h-15.74zM1547.84 387.35h7.87v7.87h-7.87zM1579.32 387.35h7.87v7.87h-7.87zM1602.92 387.35h15.74v7.87h-15.74zM1532.1 379.48h7.87v7.87h-7.87zM1555.71 379.48h7.87v7.87h-7.87zM1587.18 379.48h7.87v7.87h-7.87zM1610.79 379.48h7.87v7.87h-7.87zM1532.1 371.62h15.74v7.87h-15.74zM1563.58 371.62h7.87v7.87h-7.87zM1595.05 371.62h7.87v7.87h-7.87zM1618.66 371.62h7.87v7.87h-7.87zM1539.97 363.75h15.74v7.87h-15.74zM1571.45 363.75h7.87v7.87h-7.87zM1602.92 363.75h7.87v7.87h-7.87zM1626.53 363.75h7.87v7.87h-7.87zM1555.71 355.88h7.87v7.87h-7.87zM1579.32 355.88h7.87v7.87h-7.87zM1610.79 355.88h7.87v7.87h-7.87zM1634.4 355.88h7.87v7.87h-7.87zM1555.71 348.01h15.74v7.87h-15.74zM1587.18 348.01h7.87v7.87h-7.87zM1618.66 348.01h7.87v7.87h-7.87zM1642.27 348.01h7.87v7.87h-7.87zM1563.58 340.14h15.74v7.87h-15.74zM1595.05 340.14h7.87v7.87h-7.87zM1626.53 340.14h7.87v7.87h-7.87zM1579.32 332.27h7.87v7.87h-7.87zM1602.92 332.27h7.87v7.87h-7.87zM1634.4 332.27h7.87v7.87h-7.87zM1587.18 324.4h7.87v7.87h-7.87zM1610.79 324.4h7.87v7.87h-7.87zM1642.27 324.4h7.87v7.87h-7.87zM1595.05 316.53h7.87v7.87h-7.87zM1618.66 316.53h7.87v7.87h-7.87zM1650.14 316.53h15.74v7.87h-15.74zM1602.92 308.66h7.87v7.87h-7.87zM1626.53 308.66h7.87v7.87h-7.87zM1673.75 308.66h7.87v7.87h-7.87zM1634.4 300.79h7.87v7.87h-7.87zM1634.4 292.92h7.87v7.87h-7.87zM1673.75 285.05h7.87v7.87h-7.87zM1642.27 277.18h7.87v7.87h-7.87zM1665.88 277.18h7.87v7.87h-7.87zM1713.09 261.45h15.74v7.87h-15.74zM1713.09 253.58h15.74v7.87h-15.74zM1720.96 245.71h7.87v7.87h-7.87zM1689.48 237.84h15.74v7.87h-15.74zM1689.48 229.97h23.61v7.87h-23.61zM1768.18 198.49h15.74v7.87h-15.74zM1776.05 190.62h15.74v7.87h-15.74zM1752.44 182.75h7.87v7.87h-7.87zM1752.44 174.88h15.74v7.87h-15.74zM1783.92 174.88h7.87v7.87h-7.87zM1760.31 167.02h7.87v7.87h-7.87zM1776.05 167.02h7.87v7.87h-7.87zM1823.26 143.41h7.87v7.87h-7.87zM1831.13 135.54h7.87v7.87h-7.87zM1807.52 127.67h7.87v7.87h-7.87zM1815.39 119.8h7.87v7.87h-7.87z"/><path fill="#fa1405" d="M225.81 1740.86h7.87v7.87h-7.87zM225.81 1732.99h15.74v7.87h-15.74zM210.07 1725.12h15.74v7.87h-15.74zM233.68 1725.12h15.74v7.87h-15.74zM217.94 1717.25h15.74v7.87h-15.74zM241.55 1717.25h15.74v7.87h-15.74zM225.81 1709.38h15.74v7.87h-15.74zM233.68 1701.52h7.87v7.87h-7.87zM320.24 1646.43h7.87v7.87h-7.87zM328.11 1638.56h7.87v7.87h-7.87zM304.5 1630.69h7.87v7.87h-7.87zM328.11 1630.69h15.74v7.87h-15.74zM312.37 1622.82h15.74v7.87h-15.74zM335.98 1622.82h15.74v7.87h-15.74zM320.24 1614.95h15.74v7.87h-15.74zM343.85 1614.95h15.74v7.87h-15.74zM328.11 1607.08h15.74v7.87h-15.74zM351.72 1607.08h7.87v7.87h-7.87zM335.98 1599.22h15.74v7.87h-15.74zM611.4 1489.05h7.87v7.87h-7.87zM501.23 1465.44h7.87v7.87h-7.87zM501.23 1457.57h15.74v7.87h-15.74zM485.49 1449.7h15.74v7.87h-15.74zM509.1 1449.7h15.74v7.87h-15.74zM493.36 1441.83h15.74v7.87h-15.74zM501.23 1433.96h7.87v7.87h-7.87zM532.71 1426.09h7.87v7.87h-7.87zM784.52 1426.09h7.87v7.87h-7.87zM524.84 1418.22h7.87v7.87h-7.87zM587.79 1378.88h7.87v7.87h-7.87zM587.79 1371.01h15.74v7.87h-15.74zM572.05 1363.14h15.74v7.87h-15.74zM603.53 1363.14h15.74v7.87h-15.74zM579.92 1355.27h7.87v7.87h-7.87zM603.53 1355.27h23.61v7.87h-23.61zM587.79 1347.4h15.74v7.87h-15.74zM619.27 1347.4h7.87v7.87h-7.87zM461.88 1339.53h7.87v7.87h-7.87zM587.79 1339.53h15.74v7.87h-15.74zM595.66 1331.66h15.74v7.87h-15.74zM1138.64 1245.1h7.87v7.87h-7.87zM1130.77 1213.62h31.48v7.87h-31.48zM1209.46 1174.28h7.87v7.87h-7.87zM524.84 1166.41h7.87v7.87h-7.87zM894.69 1071.98h15.74v7.87h-15.74zM902.56 1064.11h7.87v7.87h-7.87zM878.95 1056.24h7.87v7.87h-7.87zM902.56 1056.24h15.74v7.87h-15.74zM878.95 1048.37h23.61v7.87h-23.61zM910.43 1048.37h23.61v7.87h-23.61zM894.69 1040.5h15.74v7.87h-15.74zM918.3 1040.5h15.74v7.87h-15.74zM902.56 1032.63h15.74v7.87h-15.74zM902.56 1024.76h15.74v7.87h-15.74zM949.78 1009.02h7.87v7.87h-7.87zM941.91 1001.15h7.87v7.87h-7.87zM981.25 985.42h15.74v7.87h-15.74zM989.12 977.55h15.74v7.87h-15.74zM965.52 969.68h7.87v7.87h-7.87zM996.99 969.68h7.87v7.87h-7.87zM965.52 961.81h15.74v7.87h-15.74zM973.38 953.94h15.74v7.87h-15.74zM1059.95 906.72h7.87v7.87h-7.87zM1067.82 898.85h7.87v7.87h-7.87zM1044.21 890.98h7.87v7.87h-7.87zM1075.68 890.98h7.87v7.87h-7.87zM1052.08 883.12h7.87v7.87h-7.87zM1059.95 875.25h7.87v7.87h-7.87zM1122.9 843.77h7.87v7.87h-7.87zM1107.16 828.03h7.87v7.87h-7.87zM1138.64 828.03h7.87v7.87h-7.87zM737.31 820.16h7.87v7.87h-7.87zM1146.51 820.16h7.87v7.87h-7.87zM705.83 812.29h7.87v7.87h-7.87zM737.31 812.29h7.87v7.87h-7.87zM1122.9 812.29h7.87v7.87h-7.87zM1154.38 812.29h15.74v7.87h-15.74zM737.31 804.42h7.87v7.87h-7.87zM1130.77 804.42h7.87v7.87h-7.87zM1162.25 804.42h7.87v7.87h-7.87zM737.31 796.55h7.87v7.87h-7.87zM1138.64 796.55h7.87v7.87h-7.87zM1138.64 788.68h15.74v7.87h-15.74zM1193.72 780.82h7.87v7.87h-7.87zM1193.72 772.95h7.87v7.87h-7.87zM1170.12 757.21h15.74v7.87h-15.74zM776.65 741.47h7.87v7.87h-7.87zM1288.15 678.52h7.87v7.87h-7.87zM1296.02 670.65h7.87v7.87h-7.87zM1272.42 662.78h7.87v7.87h-7.87zM1303.89 662.78h7.87v7.87h-7.87zM1280.28 654.91h7.87v7.87h-7.87zM1288.15 647.04h7.87v7.87h-7.87zM1642.27 340.14h7.87v7.87h-7.87zM1610.79 308.66h7.87v7.87h-7.87z"/><path fill="#4690c8" d="M335.98 1740.86h15.74v7.87h-15.74zM328.11 1732.99h31.48v7.87h-31.48zM320.24 1725.12h39.35v7.87h-39.35zM312.37 1717.25h39.35v7.87h-39.35zM776.65 1717.25h7.87v7.87h-7.87zM304.5 1709.38h15.74v7.87h-15.74zM335.98 1709.38h7.87v7.87h-7.87zM296.63 1701.52h7.87v7.87h-7.87zM312.37 1701.52h7.87v7.87h-7.87zM745.18 1701.52h7.87v7.87h-7.87zM776.65 1701.52h7.87v7.87h-7.87zM296.63 1693.65h7.87v7.87h-7.87zM745.18 1693.65h7.87v7.87h-7.87zM288.76 1685.78h7.87v7.87h-7.87zM296.63 1677.91h7.87v7.87h-7.87zM265.15 1662.17h7.87v7.87h-7.87zM249.42 1654.3h15.74v7.87h-15.74zM273.02 1654.3h7.87v7.87h-7.87zM241.55 1646.43h7.87v7.87h-7.87zM233.68 1638.56h23.61v7.87h-23.61zM225.81 1630.69h15.74v7.87h-15.74zM595.66 1630.69h31.48v7.87h-31.48zM217.94 1622.82h23.61v7.87h-23.61zM587.79 1622.82h31.48v7.87h-31.48zM210.07 1614.95h39.35v7.87h-39.35zM579.92 1614.95h39.35v7.87h-39.35zM210.07 1607.08h31.48v7.87h-31.48zM572.05 1607.08h39.35v7.87h-39.35zM217.94 1599.22h15.74v7.87h-15.74zM572.05 1599.22h31.48v7.87h-31.48zM391.06 1591.35h7.87v7.87h-7.87zM579.92 1591.35h7.87v7.87h-7.87zM359.58 1559.87h7.87v7.87h-7.87zM941.91 1473.31h7.87v7.87h-7.87zM619.27 1465.44h15.74v7.87h-15.74zM926.17 1465.44h7.87v7.87h-7.87zM587.79 1457.57h39.35v7.87h-39.35zM918.3 1457.57h7.87v7.87h-7.87zM579.92 1449.7h39.35v7.87h-39.35zM910.43 1449.7h23.61v7.87h-23.61zM572.05 1441.83h7.87v7.87h-7.87zM587.79 1441.83h23.61v7.87h-23.61zM902.56 1441.83h31.48v7.87h-31.48zM564.18 1433.96h15.74v7.87h-15.74zM587.79 1433.96h15.74v7.87h-15.74zM910.43 1433.96h23.61v7.87h-23.61zM564.18 1426.09h15.74v7.87h-15.74zM587.79 1426.09h7.87v7.87h-7.87zM564.18 1418.22h7.87v7.87h-7.87zM831.74 1402.48h7.87v7.87h-7.87zM784.52 1394.62h7.87v7.87h-7.87zM516.97 1386.75h23.61v7.87h-23.61zM784.52 1386.75h7.87v7.87h-7.87zM816 1386.75h7.87v7.87h-7.87zM343.85 1378.88h15.74v7.87h-15.74zM509.1 1378.88h23.61v7.87h-23.61zM335.98 1371.01h31.48v7.87h-31.48zM501.23 1371.01h7.87v7.87h-7.87zM328.11 1363.14h31.48v7.87h-31.48zM493.36 1363.14h39.35v7.87h-39.35zM320.24 1355.27h39.35v7.87h-39.35zM493.36 1355.27h31.48v7.87h-31.48zM320.24 1347.4h31.48v7.87h-31.48zM493.36 1347.4h23.61v7.87h-23.61zM729.44 1347.4h7.87v7.87h-7.87zM320.24 1339.53h23.61v7.87h-23.61zM493.36 1339.53h15.74v7.87h-15.74zM320.24 1331.66h7.87v7.87h-7.87zM485.49 1331.66h15.74v7.87h-15.74zM485.49 1323.79h7.87v7.87h-7.87zM603.53 1221.49h7.87v7.87h-7.87zM249.42 1205.75h15.74v7.87h-15.74zM886.82 1190.02h39.35v7.87h-39.35zM233.68 1174.28h7.87v7.87h-7.87zM249.42 1174.28h7.87v7.87h-7.87zM556.32 1166.41h15.74v7.87h-15.74zM878.95 1158.54h31.48v7.87h-31.48zM831.74 1150.67h7.87v7.87h-7.87zM839.61 1142.8h7.87v7.87h-7.87zM564.18 1134.93h7.87v7.87h-7.87zM548.45 1119.19h7.87v7.87h-7.87zM800.26 1119.19h7.87v7.87h-7.87zM808.13 1111.32h7.87v7.87h-7.87zM878.95 1103.45h15.74v7.87h-15.74zM792.39 1071.98h7.87v7.87h-7.87zM847.48 1071.98h7.87v7.87h-7.87zM1146.51 1071.98h23.61v7.87h-23.61zM760.92 1064.11h7.87v7.87h-7.87zM792.39 1064.11h7.87v7.87h-7.87zM847.48 1064.11h7.87v7.87h-7.87zM1138.64 1064.11h31.48v7.87h-31.48zM760.92 1056.24h7.87v7.87h-7.87zM792.39 1056.24h7.87v7.87h-7.87zM1138.64 1056.24h15.74v7.87h-15.74zM509.1 1048.37h7.87v7.87h-7.87zM760.92 1048.37h7.87v7.87h-7.87zM792.39 1048.37h7.87v7.87h-7.87zM1122.9 1048.37h23.61v7.87h-23.61zM501.23 1040.5h23.61v7.87h-23.61zM760.92 1040.5h7.87v7.87h-7.87zM1122.9 1040.5h31.48v7.87h-31.48zM493.36 1032.63h31.48v7.87h-31.48zM760.92 1032.63h7.87v7.87h-7.87zM1115.03 1032.63h31.48v7.87h-31.48zM485.49 1024.76h7.87v7.87h-7.87zM501.23 1024.76h23.61v7.87h-23.61zM1115.03 1024.76h23.61v7.87h-23.61zM477.62 1009.02h7.87v7.87h-7.87zM1083.55 985.42h7.87v7.87h-7.87zM965.52 867.38h7.87v7.87h-7.87zM918.3 835.9h15.74v7.87h-15.74zM902.56 828.03h31.48v7.87h-31.48zM902.56 820.16h31.48v7.87h-31.48zM886.82 812.29h39.35v7.87h-39.35zM878.95 804.42h23.61v7.87h-23.61zM910.43 804.42h7.87v7.87h-7.87zM878.95 796.55h15.74v7.87h-15.74zM878.95 788.68h15.74v7.87h-15.74z"/><path fill="#36acdb" d="M1288.15 1732.99h7.87v7.87h-7.87zM1264.55 1725.12h39.35v7.87h-39.35zM753.05 1717.25h7.87v7.87h-7.87zM1240.94 1717.25h7.87v7.87h-7.87zM1264.55 1717.25h23.61v7.87h-23.61zM320.24 1709.38h15.74v7.87h-15.74zM1240.94 1709.38h7.87v7.87h-7.87zM1264.55 1709.38h7.87v7.87h-7.87zM1280.28 1709.38h7.87v7.87h-7.87zM304.5 1701.52h7.87v7.87h-7.87zM320.24 1701.52h15.74v7.87h-15.74zM1240.94 1701.52h7.87v7.87h-7.87zM304.5 1693.65h23.61v7.87h-23.61zM713.7 1693.65h7.87v7.87h-7.87zM296.63 1685.78h23.61v7.87h-23.61zM713.7 1685.78h7.87v7.87h-7.87zM288.76 1677.91h7.87v7.87h-7.87zM273.02 1662.17h7.87v7.87h-7.87zM265.15 1654.3h7.87v7.87h-7.87zM249.42 1646.43h23.61v7.87h-23.61zM257.28 1638.56h15.74v7.87h-15.74zM603.53 1638.56h15.74v7.87h-15.74zM241.55 1630.69h23.61v7.87h-23.61zM241.55 1622.82h15.74v7.87h-15.74zM391.06 1599.22h7.87v7.87h-7.87zM414.67 1599.22h15.74v7.87h-15.74zM564.18 1599.22h7.87v7.87h-7.87zM383.19 1591.35h7.87v7.87h-7.87zM564.18 1591.35h15.74v7.87h-15.74zM359.58 1567.74h7.87v7.87h-7.87zM351.72 1559.87h7.87v7.87h-7.87zM351.72 1536.26h7.87v7.87h-7.87zM351.72 1528.39h7.87v7.87h-7.87zM501.23 1520.52h7.87v7.87h-7.87zM934.04 1481.18h7.87v7.87h-7.87zM934.04 1473.31h7.87v7.87h-7.87zM595.66 1465.44h23.61v7.87h-23.61zM934.04 1465.44h15.74v7.87h-15.74zM926.17 1457.57h7.87v7.87h-7.87zM430.41 1449.7h7.87v7.87h-7.87zM579.92 1441.83h7.87v7.87h-7.87zM579.92 1433.96h7.87v7.87h-7.87zM894.69 1433.96h15.74v7.87h-15.74zM579.92 1426.09h7.87v7.87h-7.87zM839.61 1426.09h7.87v7.87h-7.87zM564.18 1410.35h7.87v7.87h-7.87zM816 1394.62h23.61v7.87h-23.61zM351.72 1386.75h15.74v7.87h-15.74zM540.58 1386.75h7.87v7.87h-7.87zM823.87 1386.75h7.87v7.87h-7.87zM359.58 1378.88h7.87v7.87h-7.87zM784.52 1378.88h15.74v7.87h-15.74zM816 1378.88h7.87v7.87h-7.87zM509.1 1371.01h23.61v7.87h-23.61zM753.05 1371.01h15.74v7.87h-15.74zM784.52 1371.01h15.74v7.87h-15.74zM753.05 1363.14h7.87v7.87h-7.87zM784.52 1363.14h7.87v7.87h-7.87zM485.49 1355.27h7.87v7.87h-7.87zM753.05 1355.27h7.87v7.87h-7.87zM312.37 1347.4h7.87v7.87h-7.87zM485.49 1347.4h7.87v7.87h-7.87zM753.05 1347.4h7.87v7.87h-7.87zM312.37 1339.53h7.87v7.87h-7.87zM485.49 1339.53h7.87v7.87h-7.87zM650.75 1331.66h15.74v7.87h-15.74zM650.75 1323.79h15.74v7.87h-15.74zM619.27 1300.18h15.74v7.87h-15.74zM619.27 1292.32h15.74v7.87h-15.74zM257.28 1237.23h15.74v7.87h-15.74zM918.3 1221.49h7.87v7.87h-7.87zM233.68 1197.88h7.87v7.87h-7.87zM579.92 1197.88h31.48v7.87h-31.48zM579.92 1190.02h7.87v7.87h-7.87zM572.05 1166.41h23.61v7.87h-23.61zM572.05 1158.54h15.74v7.87h-15.74zM556.32 1134.93h7.87v7.87h-7.87zM572.05 1134.93h7.87v7.87h-7.87zM556.32 1127.06h15.74v7.87h-15.74zM556.32 1119.19h7.87v7.87h-7.87zM524.84 1111.32h7.87v7.87h-7.87zM516.97 1056.24h7.87v7.87h-7.87zM1130.77 1056.24h7.87v7.87h-7.87zM1154.38 1056.24h15.74v7.87h-15.74zM516.97 1048.37h7.87v7.87h-7.87zM1146.51 1048.37h15.74v7.87h-15.74zM1115.03 1040.5h7.87v7.87h-7.87zM729.44 1032.63h7.87v7.87h-7.87zM493.36 1024.76h7.87v7.87h-7.87zM1107.16 1024.76h7.87v7.87h-7.87zM469.75 1016.89h23.61v7.87h-23.61zM485.49 1009.02h7.87v7.87h-7.87zM1052.08 985.42h15.74v7.87h-15.74zM1075.68 985.42h7.87v7.87h-7.87zM1044.21 977.55h31.48v7.87h-31.48zM973.38 906.72h7.87v7.87h-7.87zM965.52 898.85h15.74v7.87h-15.74zM965.52 890.98h15.74v7.87h-15.74zM973.38 883.12h7.87v7.87h-7.87zM965.52 875.25h7.87v7.87h-7.87zM926.17 843.77h7.87v7.87h-7.87zM910.43 835.9h7.87v7.87h-7.87zM894.69 820.16h7.87v7.87h-7.87zM902.56 804.42h7.87v7.87h-7.87zM894.69 796.55h15.74v7.87h-15.74zM894.69 788.68h7.87v7.87h-7.87zM233.68 709.99h23.61v7.87h-23.61zM225.81 686.38h23.61v7.87h-23.61zM225.81 678.52h15.74v7.87h-15.74zM225.81 670.65h23.61v7.87h-23.61zM217.94 662.78h15.74v7.87h-15.74zM225.81 654.91h7.87v7.87h-7.87zM1665.88 316.53h7.87v7.87h-7.87zM1665.88 308.66h7.87v7.87h-7.87zM1634.4 285.05h15.74v7.87h-15.74z"/><path fill="#08f2fc" d="M296.63 1670.04h7.87v7.87h-7.87zM280.89 1654.3h7.87v7.87h-7.87zM690.09 1638.56h7.87v7.87h-7.87zM375.32 1599.22h7.87v7.87h-7.87zM375.32 1591.35h7.87v7.87h-7.87zM398.93 1591.35h7.87v7.87h-7.87zM572.05 1583.48h7.87v7.87h-7.87zM351.72 1575.61h15.74v7.87h-15.74zM359.58 1552h7.87v7.87h-7.87zM965.52 1520.52h7.87v7.87h-7.87zM1052.08 1520.52h7.87v7.87h-7.87zM454.02 1512.65h15.74v7.87h-15.74zM1335.37 1504.78h7.87v7.87h-7.87zM438.28 1496.92h7.87v7.87h-7.87zM941.91 1496.92h15.74v7.87h-15.74zM438.28 1489.05h7.87v7.87h-7.87zM941.91 1489.05h7.87v7.87h-7.87zM949.78 1465.44h7.87v7.87h-7.87zM776.65 1441.83h7.87v7.87h-7.87zM540.58 1426.09h7.87v7.87h-7.87zM886.82 1426.09h7.87v7.87h-7.87zM1130.77 1426.09h7.87v7.87h-7.87zM524.84 1410.35h7.87v7.87h-7.87zM556.32 1410.35h7.87v7.87h-7.87zM839.61 1402.48h7.87v7.87h-7.87zM540.58 1394.62h7.87v7.87h-7.87zM572.05 1394.62h15.74v7.87h-15.74zM800.26 1386.75h7.87v7.87h-7.87zM367.45 1378.88h7.87v7.87h-7.87zM556.32 1378.88h7.87v7.87h-7.87zM556.32 1371.01h7.87v7.87h-7.87zM941.91 1355.27h7.87v7.87h-7.87zM650.75 1315.92h15.74v7.87h-15.74zM635.01 1300.18h7.87v7.87h-7.87zM635.01 1292.32h7.87v7.87h-7.87zM697.96 1276.58h7.87v7.87h-7.87zM697.96 1268.71h7.87v7.87h-7.87zM312.37 1260.84h7.87v7.87h-7.87zM674.35 1252.97h15.74v7.87h-15.74zM1209.46 1182.15h7.87v7.87h-7.87zM509.1 1174.28h7.87v7.87h-7.87zM1177.98 1158.54h7.87v7.87h-7.87zM564.18 1150.67h7.87v7.87h-7.87zM816 1150.67h7.87v7.87h-7.87zM800.26 1134.93h7.87v7.87h-7.87zM863.22 1127.06h7.87v7.87h-7.87zM548.45 1111.32h7.87v7.87h-7.87zM823.87 1087.72h7.87v7.87h-7.87zM878.95 1087.72h15.74v7.87h-15.74zM863.22 1071.98h7.87v7.87h-7.87zM1170.12 1071.98h15.74v7.87h-15.74zM524.84 1064.11h7.87v7.87h-7.87zM863.22 1064.11h7.87v7.87h-7.87zM1067.82 1016.89h7.87v7.87h-7.87zM454.02 1009.02h15.74v7.87h-15.74zM595.66 1009.02h7.87v7.87h-7.87zM1067.82 1009.02h7.87v7.87h-7.87zM454.02 1001.15h7.87v7.87h-7.87zM485.49 1001.15h7.87v7.87h-7.87zM965.52 1001.15h15.74v7.87h-15.74zM430.41 985.42h7.87v7.87h-7.87zM949.78 985.42h7.87v7.87h-7.87zM949.78 977.55h7.87v7.87h-7.87zM1012.73 953.94h15.74v7.87h-15.74zM996.99 938.2h7.87v7.87h-7.87zM996.99 930.33h7.87v7.87h-7.87zM1044.21 922.46h15.74v7.87h-15.74zM1028.47 906.72h7.87v7.87h-7.87zM430.41 898.85h7.87v7.87h-7.87zM1028.47 898.85h7.87v7.87h-7.87zM934.04 883.12h15.74v7.87h-15.74zM1099.29 875.25h7.87v7.87h-7.87zM1107.16 859.51h7.87v7.87h-7.87zM1075.68 851.64h7.87v7.87h-7.87zM1091.42 843.77h7.87v7.87h-7.87zM524.84 820.16h7.87v7.87h-7.87zM878.95 780.82h7.87v7.87h-7.87zM792.39 772.95h7.87v7.87h-7.87zM878.95 772.95h7.87v7.87h-7.87zM1201.59 765.08h7.87v7.87h-7.87zM1185.85 749.34h7.87v7.87h-7.87zM768.78 741.47h7.87v7.87h-7.87zM1264.55 702.12h7.87v7.87h-7.87zM1248.81 686.38h7.87v7.87h-7.87zM446.15 615.56h7.87v7.87h-7.87zM1665.88 300.79h15.74v7.87h-15.74zM1673.75 292.92h7.87v7.87h-7.87zM1650.14 285.05h7.87v7.87h-7.87zM1681.62 285.05h7.87v7.87h-7.87zM1650.14 277.18h15.74v7.87h-15.74zM1689.48 277.18h7.87v7.87h-7.87zM1665.88 269.32h7.87v7.87h-7.87zM1673.75 261.45h7.87v7.87h-7.87zM1728.83 237.84h7.87v7.87h-7.87zM1713.09 222.1h7.87v7.87h-7.87zM1768.18 206.36h7.87v7.87h-7.87zM1744.57 182.75h7.87v7.87h-7.87zM1783.92 182.75h15.74v7.87h-15.74zM1768.18 167.02h7.87v7.87h-7.87zM1768.18 159.15h7.87v7.87h-7.87z"/><path fill="#ff9e05" d="M304.5 1662.17h15.74v7.87h-15.74zM288.76 1646.43h7.87v7.87h-7.87zM288.76 1638.56h7.87v7.87h-7.87zM367.45 1607.08h7.87v7.87h-7.87zM784.52 1607.08h7.87v7.87h-7.87zM367.45 1599.22h7.87v7.87h-7.87zM343.85 1583.48h15.74v7.87h-15.74zM406.8 1583.48h7.87v7.87h-7.87zM572.05 1552h15.74v7.87h-15.74zM1036.34 1552h7.87v7.87h-7.87zM367.45 1544.13h7.87v7.87h-7.87zM587.79 1528.39h15.74v7.87h-15.74zM454.02 1520.52h7.87v7.87h-7.87zM595.66 1520.52h7.87v7.87h-7.87zM430.41 1496.92h7.87v7.87h-7.87zM949.78 1489.05h7.87v7.87h-7.87zM949.78 1481.18h7.87v7.87h-7.87zM642.88 1473.31h7.87v7.87h-7.87zM949.78 1457.57h7.87v7.87h-7.87zM540.58 1433.96h7.87v7.87h-7.87zM792.39 1426.09h7.87v7.87h-7.87zM1138.64 1426.09h7.87v7.87h-7.87zM886.82 1418.22h7.87v7.87h-7.87zM516.97 1410.35h7.87v7.87h-7.87zM564.18 1402.48h7.87v7.87h-7.87zM792.39 1402.48h7.87v7.87h-7.87zM839.61 1394.62h7.87v7.87h-7.87zM548.45 1386.75h7.87v7.87h-7.87zM398.93 1378.88h7.87v7.87h-7.87zM398.93 1371.01h7.87v7.87h-7.87zM422.54 1363.14h7.87v7.87h-7.87zM422.54 1355.27h15.74v7.87h-15.74zM934.04 1355.27h7.87v7.87h-7.87zM477.62 1308.05h7.87v7.87h-7.87zM690.09 1276.58h7.87v7.87h-7.87zM674.35 1260.84h7.87v7.87h-7.87zM713.7 1260.84h7.87v7.87h-7.87zM729.44 1260.84h7.87v7.87h-7.87zM737.31 1252.97h7.87v7.87h-7.87zM690.09 1237.23h7.87v7.87h-7.87zM690.09 1221.49h7.87v7.87h-7.87zM697.96 1213.62h7.87v7.87h-7.87zM1162.25 1182.15h7.87v7.87h-7.87zM816 1174.28h7.87v7.87h-7.87zM1217.33 1174.28h7.87v7.87h-7.87zM343.85 1166.41h7.87v7.87h-7.87zM524.84 1158.54h7.87v7.87h-7.87zM548.45 1158.54h7.87v7.87h-7.87zM816 1158.54h15.74v7.87h-15.74zM823.87 1142.8h7.87v7.87h-7.87zM776.65 1134.93h7.87v7.87h-7.87zM792.39 1134.93h7.87v7.87h-7.87zM792.39 1127.06h7.87v7.87h-7.87zM808.13 1127.06h7.87v7.87h-7.87zM556.32 1111.32h7.87v7.87h-7.87zM871.08 1111.32h7.87v7.87h-7.87zM839.61 1079.85h7.87v7.87h-7.87zM886.82 1079.85h7.87v7.87h-7.87zM532.71 1064.11h7.87v7.87h-7.87zM871.08 1064.11h7.87v7.87h-7.87zM965.52 1024.76h7.87v7.87h-7.87zM595.66 1016.89h7.87v7.87h-7.87zM461.88 1001.15h15.74v7.87h-15.74zM493.36 1001.15h7.87v7.87h-7.87zM926.17 985.42h7.87v7.87h-7.87zM1020.6 946.07h15.74v7.87h-15.74zM1004.86 930.33h7.87v7.87h-7.87zM1004.86 922.46h7.87v7.87h-7.87zM398.93 914.59h7.87v7.87h-7.87zM1083.55 883.12h15.74v7.87h-15.74zM1091.42 875.25h7.87v7.87h-7.87zM1067.82 867.38h7.87v7.87h-7.87zM1067.82 859.51h15.74v7.87h-15.74zM524.84 812.29h7.87v7.87h-7.87zM1170.12 796.55h15.74v7.87h-15.74zM768.78 788.68h7.87v7.87h-7.87zM1177.98 788.68h7.87v7.87h-7.87zM1154.38 780.82h7.87v7.87h-7.87zM1154.38 772.95h15.74v7.87h-15.74zM1201.59 772.95h7.87v7.87h-7.87zM1177.98 749.34h7.87v7.87h-7.87zM776.65 733.6h7.87v7.87h-7.87zM1272.42 702.12h7.87v7.87h-7.87zM1272.42 694.25h7.87v7.87h-7.87zM1248.81 678.52h15.74v7.87h-15.74zM1335.37 631.3h7.87v7.87h-7.87zM1319.63 615.56h7.87v7.87h-7.87zM1650.14 340.14h7.87v7.87h-7.87zM1650.14 324.4h23.61v7.87h-23.61zM1673.75 316.53h7.87v7.87h-7.87zM1658.01 308.66h7.87v7.87h-7.87zM1610.79 300.79h7.87v7.87h-7.87zM1626.53 300.79h7.87v7.87h-7.87zM1626.53 292.92h7.87v7.87h-7.87zM1642.27 292.92h7.87v7.87h-7.87zM1626.53 285.05h7.87v7.87h-7.87zM1634.4 277.18h7.87v7.87h-7.87zM1697.35 269.32h7.87v7.87h-7.87zM1705.22 261.45h7.87v7.87h-7.87zM1681.62 253.58h7.87v7.87h-7.87zM1689.48 245.71h7.87v7.87h-7.87zM1736.7 229.97h7.87v7.87h-7.87zM1720.96 214.23h7.87v7.87h-7.87zM1760.31 206.36h7.87v7.87h-7.87zM1744.57 190.62h7.87v7.87h-7.87zM1791.78 174.88h15.74v7.87h-15.74zM1799.65 167.02h15.74v7.87h-15.74zM1776.05 159.15h7.87v7.87h-7.87zM1807.52 159.15h7.87v7.87h-7.87zM1776.05 151.28h15.74v7.87h-15.74zM1815.39 151.28h7.87v7.87h-7.87zM1783.92 143.41h15.74v7.87h-15.74zM1799.65 135.54h7.87v7.87h-7.87z"/></g>
<!-- frame -->
<rect x="202.2" y="119.7" width="1636.8" height="1636.9" fill="none" stroke="#000" stroke-width="5.6" stroke-linejoin="round"/>
<!-- ticks -->
<g stroke="#000" stroke-width="4.6" stroke-linecap="round" fill="none">
<path d="M591.7 1759v4.8M985.1 1759v4.8M1378.5 1759v4.8M1771.9 1759v4.8"/>
<path d="M591.7 117v-4M985.1 117v-4M1378.5 117v-4M1771.9 117v-4"/>
<path d="M199 1367.1h-4M199 973.7h-4M199 580.3h-4M199 186.9h-4"/>
<path d="M1842 1367.1h4M1842 973.7h4M1842 580.3h4M1842 186.9h4"/>
</g>
<!-- colorbar -->
<g shape-rendering="crispEdges"><rect x="1863" y="1654.3" width="11" height="102.8" fill="#ff0000"/><rect x="1863" y="1552.0" width="11" height="102.8" fill="#ff1c00"/><rect x="1863" y="1449.7" width="11" height="102.8" fill="#ff3700"/><rect x="1863" y="1347.4" width="11" height="102.8" fill="#ff5200"/><rect x="1863" y="1245.1" width="11" height="102.8" fill="#ff6e00"/><rect x="1863" y="1142.8" width="11" height="102.8" fill="#ff8a00"/><rect x="1863" y="1040.5" width="11" height="102.8" fill="#ffa500"/><rect x="1863" y="938.1" width="11" height="102.8" fill="#00ffff"/><rect x="1863" y="835.8" width="11" height="102.8" fill="#0cedf7"/><rect x="1863" y="733.5" width="11" height="102.8" fill="#19dbee"/><rect x="1863" y="631.2" width="11" height="102.8" fill="#25c9e6"/><rect x="1863" y="528.9" width="11" height="102.8" fill="#31b6dd"/><rect x="1863" y="426.6" width="11" height="102.8" fill="#3da4d5"/><rect x="1863" y="324.3" width="11" height="102.8" fill="#4a92cc"/><rect x="1863" y="222.0" width="11" height="102.8" fill="#5680c4"/></g>
<rect x="1862" y="119.7" width="12.4" height="1636.9" fill="none" stroke="#000" stroke-width="5.8" stroke-linejoin="round"/>
<g stroke="#000" stroke-width="4.6" stroke-linecap="round"><path d="M1877.5 1697.2h2.6M1877.5 1287.2h2.6M1877.5 877.2h2.6M1877.5 467.2h2.6"/></g>
<g font-size="49.5px"><text x="1882.3" y="1715.0">0</text><text x="1882.3" y="1305.0">50</text><text x="1882.3" y="895.0">100</text><text x="1882.3" y="485.0">150</text></g>
<!-- axis labels -->
<g font-size="60.5px" text-anchor="middle"><text x="591.7" y="1811.4">50</text><text x="985.1" y="1811.4">100</text><text x="1378.5" y="1811.4">150</text><text x="1771.9" y="1811.4">200</text></g>
<g font-size="60.5px" text-anchor="end"><text x="193" y="1388">50</text><text x="193" y="994.7">100</text><text x="193" y="601.3">150</text><text x="193" y="207.9">200</text></g>
<text transform="translate(1021.6,1867.8) scale(1,1.025)" font-size="59.8px" text-anchor="middle">Residue index</text>
<text transform="translate(80,939.2) rotate(-90) scale(1,1.025)" font-size="59.8px" text-anchor="middle">Residue index</text>
</svg>
</body></html>
